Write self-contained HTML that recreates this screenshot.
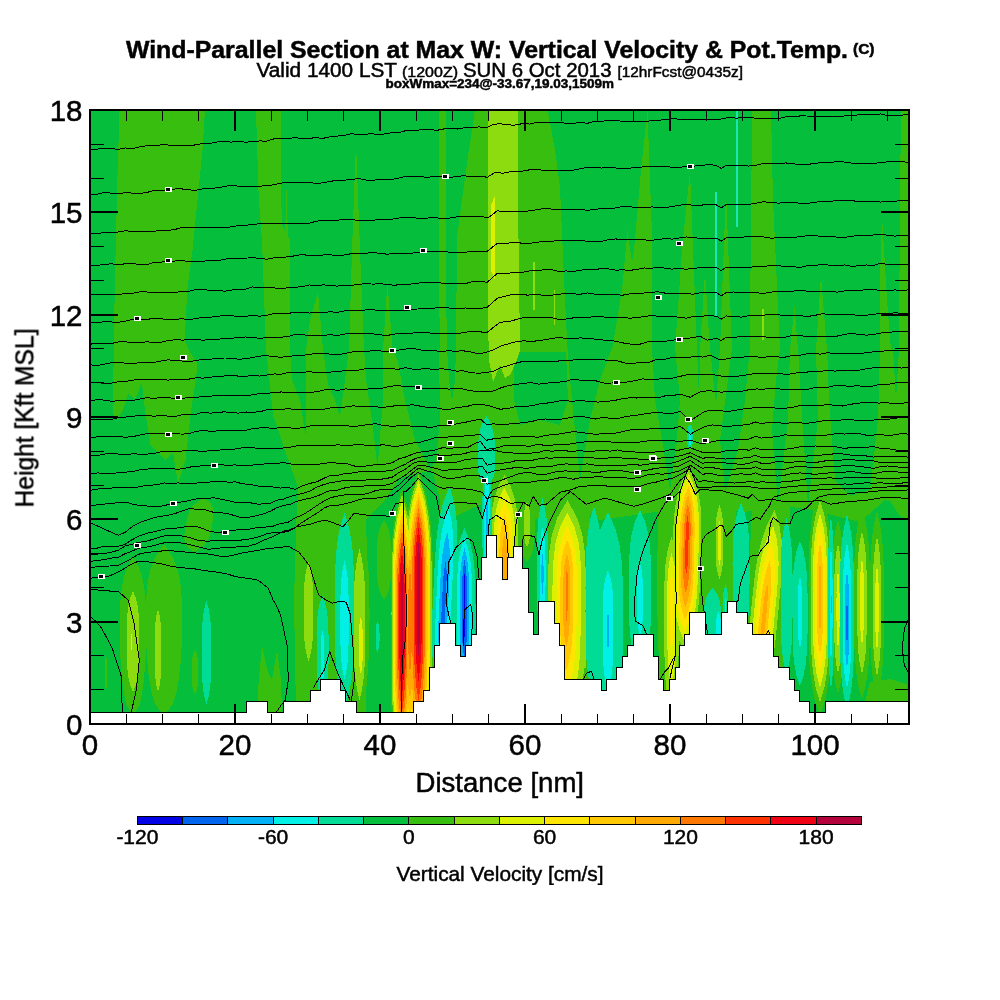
<!DOCTYPE html>
<html><head><meta charset="utf-8"><title>Wind-Parallel Section</title>
<style>html,body{margin:0;padding:0;background:#fff}svg{display:block}text{font-family:"Liberation Sans",sans-serif;fill:#000;stroke:#000;stroke-width:0.5px}</style></head><body>
<svg width="1000" height="1000" viewBox="0 0 1000 1000">
<rect width="1000" height="1000" fill="#fff"/>
<defs><clipPath id="pc"><rect x="90" y="110" width="819" height="614"/></clipPath></defs>
<g clip-path="url(#pc)" shape-rendering="crispEdges">
<rect x="90" y="110" width="819" height="614" fill="#05be3c"/>
<g fill="#37be0f"><path d="M119.5,110L205,110L202.5,150L197.5,200L192.5,250L187.5,288L184.5,340L190,352L196.5,362L196.7,373L190.5,415L185.5,460L178,484L173,452L165.5,460L150.5,445L145,410L141.8,382L135.5,399L128,394L123,410L118,417.5L113,415L113.7,350L115,275L117.5,175Z"/><path d="M256,110L281,110L281.3,200L282,225L290,240L290,350L266,350L262,240L258.8,200Z"/><path d="M286.5,190L288,237L285,237Z"/><path d="M318,292L323,350L306,350L310,320Z"/><path d="M356,142L360,250L364,350L349,350L352,250Z"/><path d="M387.5,282L392.5,350L383,350Z"/><path d="M439,110L446,110L447,520L440,520Z"/><path d="M475,110L547.5,110L555,150L560,187L563.8,275L567.5,350L456,350L457,237L466,170Z"/><path d="M647.5,111L652.5,250L652,350L612,350L622,290L627.5,231L632,262L634,250L641,170Z"/><path d="M690,171L697,350L675,350L682,250Z"/><path d="M705,272L710,350L700,350Z"/><path d="M726,189L732,350L720,350Z"/><path d="M752.5,110L771,110L773,200L780,350L750,350L751,200Z"/><path d="M794.5,307L798,350L790,350Z"/><path d="M821,276L827,350L816,350Z"/><path d="M882,216L887,300L891,350L880,350L880,280Z"/><path d="M901,110L909,110L909,350L899,350L900,200Z"/><path d="M266,349L909,349L909,505L885,500L860,522L812,510L780,505L745,512L700,505L655,512L600,520L560,500L540,520L480,505L447,520L440,500L432,470L400,478L385,500L365,520L330,520L322,600L300,600L298,487L285.5,452L273,415Z"/><path d="M257,712.5L258,690L262,646L268,672L272,680L277,650L281,680L282,712.5Z"/><path d="M297,500L366,515L368,600L366,712.5L296,712.5L294,600Z"/><path d="M658,505L736,505L737,560L735,640L700,640L690,700L660,700L657,600Z"/><path d="M546,500L590,505L588,600L586,680L560,680L540,600Z"/><path d="M752,505L790,505L788,600L782,690L760,640L748,600Z"/><path d="M865,701.7L870,682L890,679L907,684L909,701.7Z"/><path d="M889,499L909,497L909,520L900,516Z"/></g>
<g fill="#05be3c"><path d="M290,348L306,348L305.5,436L300,400L292,380Z"/><path d="M323,348L349,348L345,380L340,417L335,400L328,385Z"/><path d="M364,348L383,348L383,400L377.5,467L372,420L366,380Z"/><path d="M392.5,348L439,348L440,420L436,460L430,470L415,440L405,400L397.5,360Z"/><path d="M447,348L456,348L455,380L452,402L449,380Z"/><path d="M567.5,348L612,348L600,380L590,420L580,480L574,420L570,380Z"/><path d="M514,352L566,352L568,400L560,425L540,420L520,425L514,400Z"/><path d="M652,348L675,348L680,400L676,450L670,490L662,440L655,400Z"/><path d="M697,348L700,348L699,400Z"/><path d="M710,348L720,348L716,405Z"/><path d="M732,348L750,348L745,400L738,450L725,492L720,440L726,395Z"/><path d="M780,348L790,348L788,420L778,505L772,430L776,380Z"/><path d="M798,348L816,348L818,420L808,505L803,430L800,380Z"/><path d="M827,348L880,348L878,420L870,490L850,496L835,480L829,400Z"/><path d="M893,348L899,348L896,400Z"/></g>
<g fill="#37be0f"><path d="M133,556L139,567.4L142.6,578.9L144.6,590.3L145.6,601.7L145.9,613.1L146,624.6L146,636L145.9,647.4L145.5,658.9L144.7,670.3L143.7,681.7L142.1,693.1L139.7,704.6L133,716L126.3,704.6L123.9,693.1L122.3,681.7L121.3,670.3L120.5,658.9L120.1,647.4L120,636L120,624.6L120.1,613.1L120.4,601.7L121.4,590.3L123.4,578.9L127,567.4Z"/><path d="M164,544L172.3,556.3L177.3,568.6L180.1,580.9L181.4,593.1L181.9,605.4L182,617.7L182,630L181.8,642.3L181.2,654.6L180.3,666.9L178.8,679.1L176.6,691.4L173.3,703.7L164,716L154.7,703.7L151.4,691.4L149.2,679.1L147.7,666.9L146.8,654.6L146.2,642.3L146,630L146,617.7L146.1,605.4L146.6,593.1L147.9,580.9L150.7,568.6L155.7,556.3Z"/><path d="M195,650L196.5,653.1L197.4,656.3L197.9,659.4L198.1,662.6L198.2,665.7L198.2,668.9L198.2,672L198.2,675.1L198.2,678.3L198.1,681.4L197.9,684.6L197.4,687.7L196.5,690.9L195,694L193.5,690.9L192.6,687.7L192.1,684.6L191.9,681.4L191.8,678.3L191.8,675.1L191.8,672L191.8,668.9L191.8,665.7L191.9,662.6L192.1,659.4L192.6,656.3L193.5,653.1Z"/><path d="M204,498L209.3,501.9L212.2,505.7L213.5,509.6L213.7,513.4L213.3,517.3L212.7,521.1L212,525L211.3,528.9L210.5,532.7L209.4,536.6L207.8,540.4L205,544.3L200.7,548.1L194,552L188.7,548.1L185.8,544.3L184.5,540.4L184.3,536.6L184.7,532.7L185.3,528.9L186,525L186.7,521.1L187.5,517.3L188.6,513.4L190.2,509.6L193,505.7L197.3,501.9Z"/><path d="M106,656L106.6,658.4L106.9,660.9L107.1,663.3L107.2,665.7L107.2,668.1L107.2,670.6L107.2,673L107.2,675.4L107.2,677.9L107.2,680.3L107.1,682.7L106.9,685.1L106.6,687.6L106,690L105.4,687.6L105.1,685.1L104.9,682.7L104.8,680.3L104.8,677.9L104.8,675.4L104.8,673L104.8,670.6L104.8,668.1L104.8,665.7L104.9,663.3L105.1,660.9L105.4,658.4Z"/><path d="M309,486L314.1,501.6L317.1,517.3L318.8,532.9L319.6,548.6L319.9,564.2L320,579.9L320,595.5L319.9,611.1L319.5,626.8L318.9,642.4L318,658.1L316.7,673.7L314.7,689.4L309,705L303.3,689.4L301.3,673.7L300,658.1L299.1,642.4L298.5,626.8L298.1,611.1L298,595.5L298,579.9L298.1,564.2L298.4,548.6L299.2,532.9L300.9,517.3L303.9,501.6Z"/><path d="M359.5,530L364.1,543L366.9,556L368.4,569L369.2,582L369.4,595L369.5,608L369.5,621L369.4,634L369.1,647L368.5,660L367.7,673L366.5,686L364.7,699L359.5,712L354.3,699L352.5,686L351.3,673L350.5,660L349.9,647L349.6,634L349.5,621L349.5,608L349.6,595L349.8,582L350.6,569L352.1,556L354.9,543Z"/><path d="M384,520L387.2,525.7L389.2,531.4L390.3,537.1L390.8,542.9L391,548.6L391,554.3L391,560L391,565.7L391,571.4L390.8,577.1L390.3,582.9L389.2,588.6L387.2,594.3L384,600L380.8,594.3L378.8,588.6L377.7,582.9L377.2,577.1L377,571.4L377,565.7L377,560L377,554.3L377,548.6L377.2,542.9L377.7,537.1L378.8,531.4L380.8,525.7Z"/><path d="M418.5,470L425.8,492.5L429.9,515L432,537.5L432.8,560L433,582.5L433,605L433,627.5L433,650L432.8,672.5L432.2,695L430.9,717.5L428.6,740L424.6,762.5L418.5,785L412.4,762.5L408.4,740L406.1,717.5L404.8,695L404.2,672.5L404,650L404,627.5L404,605L404,582.5L404.2,560L405,537.5L407.1,515L411.2,492.5Z"/><path d="M402,488L407.8,509.2L411.1,530.4L412.7,551.6L413.3,572.9L413.5,594.1L413.5,615.3L413.5,636.5L413.5,657.7L413.3,678.9L412.9,700.1L411.9,721.4L410,742.6L406.9,763.8L402,785L397.1,763.8L394,742.6L392.1,721.4L391.1,700.1L390.7,678.9L390.5,657.7L390.5,636.5L390.5,615.3L390.5,594.1L390.7,572.9L391.3,551.6L392.9,530.4L396.2,509.2Z"/><path d="M410,520L414.6,537.9L417.4,555.7L418.9,573.6L419.7,591.4L419.9,609.3L420,627.1L420,645L420,662.9L419.9,680.7L419.7,698.6L418.9,716.4L417.4,734.3L414.6,752.1L410,770L405.4,752.1L402.6,734.3L401.1,716.4L400.3,698.6L400.1,680.7L400,662.9L400,645L400,627.1L400.1,609.3L400.3,591.4L401.1,573.6L402.6,555.7L405.4,537.9Z"/><path d="M504.5,464L512.1,476.6L516.8,489.1L519.5,501.7L520.8,514.3L521.3,526.9L521.5,539.4L521.5,552L521.5,564.6L521.4,577.1L521,589.7L519.9,602.3L517.3,614.9L512.5,627.4L504.5,640L496.5,627.4L491.7,614.9L489.1,602.3L488,589.7L487.6,577.1L487.5,564.6L487.5,552L487.5,539.4L487.7,526.9L488.2,514.3L489.5,501.7L492.2,489.1L496.9,476.6Z"/><path d="M527,487L530.5,492.4L532.5,497.7L533.7,503.1L534.2,508.4L534.5,513.8L534.5,519.1L534.5,524.5L534.5,529.9L534.5,535.2L534.2,540.6L533.7,545.9L532.5,551.3L530.5,556.6L527,562L523.5,556.6L521.5,551.3L520.3,545.9L519.8,540.6L519.5,535.2L519.5,529.9L519.5,524.5L519.5,519.1L519.5,513.8L519.8,508.4L520.3,503.1L521.5,497.7L523.5,492.4Z"/><path d="M567.5,488L579.7,507.4L586.4,526.9L589.5,546.3L590.6,565.7L590.8,585.1L590.6,604.6L590.5,624L590.3,643.4L589.7,662.9L588.6,682.3L586.3,701.7L582.2,721.1L575.6,740.6L565.5,760L555.7,740.6L549.4,721.1L545.6,701.7L543.6,682.3L542.7,662.9L542.4,643.4L542.5,624L542.6,604.6L542.8,585.1L543.2,565.7L544.6,546.3L548,526.9L555,507.4Z"/><path d="M689,462L696.3,476.1L700.6,490.3L702.7,504.4L703.5,518.6L703.6,532.7L703.4,546.9L703,561L702.6,575.1L702.2,589.3L701.3,603.4L699.8,617.6L696.9,631.7L691.9,645.9L684,660L676.8,645.9L672.6,631.7L670.4,617.6L669.5,603.4L669.4,589.3L669.7,575.1L670,561L670.4,546.9L670.8,532.7L671.6,518.6L673.1,504.4L676,490.3L681,476.1Z"/><path d="M671.5,522L677,537.9L680,553.9L681.4,569.8L681.9,585.7L682,601.6L682,617.6L682,633.5L681.9,649.4L681.8,665.4L681.3,681.3L680.3,697.2L678.6,713.1L675.8,729.1L671.5,745L667.2,729.1L664.4,713.1L662.7,697.2L661.7,681.3L661.2,665.4L661.1,649.4L661,633.5L661,617.6L661,601.6L661.1,585.7L661.6,569.8L663,553.9L666,537.9Z"/><path d="M719.5,492L722.5,499L724.3,506L725.3,513L725.8,520L726,527L726,534L726,541L726,548L726,555L725.8,562L725.3,569L724.3,576L722.5,583L719.5,590L716.5,583L714.7,576L713.7,569L713.2,562L713,555L713,548L713,541L713,534L713,527L713.2,520L713.7,513L714.7,506L716.5,499Z"/><path d="M776,496L782.1,512.7L785.2,529.4L786.2,546.1L785.8,562.9L784.7,579.6L783.1,596.3L781.5,613L779.9,629.7L778.1,646.4L776,663.1L773.2,679.9L769,696.6L762.6,713.3L753,730L746.7,713.3L743.6,696.6L742.6,679.9L743.1,663.1L744.3,646.4L745.9,629.7L747.5,613L749.2,596.3L750.9,579.6L753.1,562.9L756,546.1L760.3,529.4L766.6,512.7Z"/><path d="M820,488L825.3,504.3L828.5,520.6L830.3,536.9L831.1,553.1L831.4,569.4L831.5,585.7L831.5,602L831.5,618.3L831.4,634.6L831.1,650.9L830.3,667.1L828.5,683.4L825.3,699.7L820,716L814.7,699.7L811.5,683.4L809.7,667.1L808.9,650.9L808.6,634.6L808.5,618.3L808.5,602L808.5,585.7L808.6,569.4L808.9,553.1L809.7,536.9L811.5,520.6L814.7,504.3Z"/><path d="M838,520L841,532.4L842.8,544.9L843.8,557.3L844.3,569.7L844.5,582.1L844.5,594.6L844.5,607L844.5,619.4L844.5,631.9L844.3,644.3L843.8,656.7L842.8,669.1L841,681.6L838,694L835,681.6L833.2,669.1L832.2,656.7L831.7,644.3L831.5,631.9L831.5,619.4L831.5,607L831.5,594.6L831.5,582.1L831.7,569.7L832.2,557.3L833.2,544.9L835,532.4Z"/><path d="M862,508L865.7,521.6L867.9,535.3L869.1,548.9L869.7,562.6L869.9,576.2L870,589.9L870,603.5L870,617.1L869.9,630.8L869.7,644.4L869.1,658.1L867.9,671.7L865.7,685.4L862,699L858.3,685.4L856.1,671.7L854.9,658.1L854.3,644.4L854.1,630.8L854,617.1L854,603.5L854,589.9L854.1,576.2L854.3,562.6L854.9,548.9L856.1,535.3L858.3,521.6Z"/><path d="M877,511L880.1,524.4L882,537.9L883.1,551.3L883.6,564.7L883.8,578.1L883.8,591.6L883.8,605L883.8,618.4L883.8,631.9L883.6,645.3L883.1,658.7L882,672.1L880.1,685.6L877,699L873.9,685.6L872,672.1L870.9,658.7L870.4,645.3L870.2,631.9L870.2,618.4L870.2,605L870.2,591.6L870.2,578.1L870.4,564.7L870.9,551.3L872,537.9L873.9,524.4Z"/><path d="M585,600L587.3,605.7L588.7,611.4L589.5,617.1L589.8,622.9L590,628.6L590,634.3L590,640L590,645.7L590,651.4L589.8,657.1L589.5,662.9L588.7,668.6L587.3,674.3L585,680L582.7,674.3L581.3,668.6L580.5,662.9L580.2,657.1L580,651.4L580,645.7L580,640L580,634.3L580,628.6L580.2,622.9L580.5,617.1L581.3,611.4L582.7,605.7Z"/></g>
<g fill="#8cdc0f"><path d="M487.5,110L517.5,110L518,200L520,350L517,360L510,375L505,378L500,365L493,382L489,360L487.5,300Z"/><path d="M533,262L534.8,262L534.8,310L533,310Z"/><path d="M553.5,290L555,290L555,325L553.5,325Z"/><path d="M762.3,309L764,309L764,340L762.3,340Z"/><path d="M133,591L135.9,598.2L137.6,605.4L138.5,612.6L139,619.9L139.2,627.1L139.2,634.3L139.2,641.5L139.2,648.7L139.2,655.9L139,663.1L138.5,670.4L137.6,677.6L135.9,684.8L133,692L130.1,684.8L128.4,677.6L127.5,670.4L127,663.1L126.8,655.9L126.8,648.7L126.8,641.5L126.8,634.3L126.8,627.1L127,619.9L127.5,612.6L128.4,605.4L130.1,598.2Z"/><path d="M158,609L159.5,614.9L160.4,620.9L160.9,626.8L161.1,632.7L161.2,638.6L161.2,644.6L161.2,650.5L161.2,656.4L161.2,662.4L161.1,668.3L160.9,674.2L160.4,680.1L159.5,686.1L158,692L156.5,686.1L155.6,680.1L155.1,674.2L154.9,668.3L154.8,662.4L154.8,656.4L154.8,650.5L154.8,644.6L154.8,638.6L154.9,632.7L155.1,626.8L155.6,620.9L156.5,614.9Z"/><path d="M308.5,562L310.6,569.1L311.9,576.1L312.6,583.2L312.9,590.3L313.1,597.4L313.1,604.4L313.1,611.5L313.1,618.6L313.1,625.6L312.9,632.7L312.6,639.8L311.9,646.9L310.6,653.9L308.5,661L306.4,653.9L305.1,646.9L304.4,639.8L304.1,632.7L303.9,625.6L303.9,618.6L303.9,611.5L303.9,604.4L303.9,597.4L304.1,590.3L304.4,583.2L305.1,576.1L306.4,569.1Z"/><path d="M359.5,549L362.1,559.8L363.6,570.6L364.5,581.4L364.9,592.1L365.1,602.9L365.1,613.7L365.1,624.5L365.1,635.3L365.1,646.1L364.9,656.9L364.5,667.6L363.6,678.4L362.1,689.2L359.5,700L356.9,689.2L355.4,678.4L354.5,667.6L354.1,656.9L353.9,646.1L353.9,635.3L353.9,624.5L353.9,613.7L353.9,602.9L354.1,592.1L354.5,581.4L355.4,570.6L356.9,559.8Z"/><path d="M418.5,475.2L425.1,496.7L428.9,518.1L430.7,539.6L431.5,561.1L431.7,582.5L431.7,604L431.7,625.4L431.7,646.9L431.5,668.4L431,689.8L429.8,711.3L427.7,732.7L424.1,754.2L418.5,775.6L412.9,754.2L409.3,732.7L407.2,711.3L406,689.8L405.5,668.4L405.3,646.9L405.3,625.4L405.3,604L405.3,582.5L405.5,561.1L406.3,539.6L408.1,518.1L411.9,496.7Z"/><path d="M402,493.7L407.3,514L410.2,534.2L411.7,554.4L412.3,574.7L412.4,594.9L412.5,615.1L412.5,635.4L412.4,655.6L412.3,675.8L411.9,696.1L411,716.3L409.3,736.5L406.4,756.8L402,777L397.6,756.8L394.7,736.5L393,716.3L392.1,696.1L391.7,675.8L391.6,655.6L391.5,635.4L391.5,615.1L391.6,594.9L391.7,574.7L392.3,554.4L393.8,534.2L396.7,514Z"/><path d="M410,525.7L414,542.4L416.4,559L417.8,575.7L418.4,592.3L418.6,609L418.7,625.7L418.7,642.3L418.7,659L418.6,675.6L418.4,692.3L417.8,709L416.4,725.6L414,742.3L410,758.9L406,742.3L403.6,725.6L402.2,709L401.6,692.3L401.4,675.6L401.3,659L401.3,642.3L401.3,625.7L401.4,609L401.6,592.3L402.2,575.7L403.6,559L406,542.4Z"/><path d="M504.5,475.3L510.7,486.5L514.6,497.8L516.8,509.1L517.9,520.3L518.3,531.6L518.4,542.8L518.4,554.1L518.4,565.3L518.3,576.6L518,587.9L517.1,599.1L515,610.4L511.1,621.6L504.5,632.9L497.9,621.6L494,610.4L491.9,599.1L491,587.9L490.7,576.6L490.6,565.3L490.6,554.1L490.6,542.8L490.7,531.6L491.1,520.3L492.2,509.1L494.4,497.8L498.3,486.5Z"/><path d="M527,501.7L528.4,504.9L529.3,508.2L529.7,511.4L529.9,514.7L530,518L530,521.2L530,524.5L530,527.8L530,531L529.9,534.3L529.7,537.6L529.3,540.8L528.4,544.1L527,547.3L525.6,544.1L524.7,540.8L524.3,537.6L524.1,534.3L524,531L524,527.8L524,524.5L524,521.2L524,518L524.1,514.7L524.3,511.4L524.7,508.2L525.6,504.9Z"/><path d="M567.4,500.3L577,517.4L582.3,534.4L584.7,551.4L585.6,568.5L585.7,585.5L585.6,602.5L585.4,619.6L585.2,636.6L584.8,653.6L583.9,670.7L582.1,687.7L578.8,704.7L573.6,721.8L565.7,738.8L557.9,721.8L553,704.7L550,687.7L548.4,670.7L547.7,653.6L547.6,636.6L547.6,619.6L547.8,602.5L547.9,585.5L548.2,568.5L549.3,551.4L552,534.4L557.5,517.4Z"/><path d="M688.9,467.6L695.1,480.7L698.7,493.8L700.6,506.9L701.2,520L701.3,533.1L701,546.2L700.7,559.3L700.4,572.4L699.9,585.5L699.2,598.6L697.8,611.7L695.3,624.8L691,637.9L684.2,651L678.1,637.9L674.5,624.8L672.6,611.7L671.9,598.6L671.8,585.5L672.1,572.4L672.4,559.3L672.7,546.2L673.1,533.1L673.8,520L675.2,506.9L677.7,493.8L682,480.7Z"/><path d="M671.5,536.5L675.3,549.5L677.4,562.4L678.3,575.4L678.7,588.4L678.7,601.3L678.7,614.3L678.7,627.3L678.7,640.2L678.6,653.2L678.2,666.2L677.6,679.1L676.4,692.1L674.4,705.1L671.5,718L668.6,705.1L666.6,692.1L665.4,679.1L664.8,666.2L664.4,653.2L664.3,640.2L664.3,627.3L664.3,614.3L664.3,601.3L664.3,588.4L664.7,575.4L665.6,562.4L667.7,549.5Z"/><path d="M719.5,505.3L721.3,510.6L722.3,515.8L722.9,521.1L723.2,526.3L723.3,531.5L723.3,536.8L723.3,542L723.3,547.2L723.3,552.5L723.2,557.7L722.9,563L722.3,568.2L721.3,573.4L719.5,578.7L717.7,573.4L716.7,568.2L716.1,563L715.8,557.7L715.7,552.5L715.7,547.2L715.7,542L715.7,536.8L715.7,531.5L715.8,526.3L716.1,521.1L716.7,515.8L717.7,510.6Z"/><path d="M774.6,510.3L779.3,525.1L781.7,539.9L782.4,554.7L781.9,569.6L780.9,584.4L779.5,599.2L778.1,614L776.6,628.8L775.1,643.7L773.3,658.5L770.9,673.3L767.3,688.1L762,702.9L754.2,717.8L749.3,702.9L746.9,688.1L746.3,673.3L746.8,658.5L747.9,643.7L749.3,628.8L750.7,614L752.2,599.2L753.8,584.4L755.6,569.6L758.1,554.7L761.7,539.9L766.9,525.1Z"/><path d="M820,500.1L824.3,514.6L826.8,529L828.3,543.4L828.9,557.9L829.2,572.3L829.2,586.8L829.2,601.2L829.2,615.6L829.2,630.1L828.9,644.5L828.3,659L826.8,673.4L824.3,687.8L820,702.3L815.7,687.8L813.2,673.4L811.7,659L811.1,644.5L810.8,630.1L810.8,615.6L810.8,601.2L810.8,586.8L810.8,572.3L811.1,557.9L811.7,543.4L813.2,529L815.7,514.6Z"/><path d="M838,543.2L839.8,552.5L840.8,561.8L841.4,571.1L841.7,580.4L841.8,589.7L841.8,599L841.8,608.3L841.8,617.6L841.8,626.9L841.7,636.2L841.4,645.5L840.8,654.8L839.8,664.1L838,673.4L836.2,664.1L835.2,654.8L834.6,645.5L834.3,636.2L834.2,626.9L834.2,617.6L834.2,608.3L834.2,599L834.2,589.7L834.3,580.4L834.6,571.1L835.2,561.8L836.2,552.5Z"/><path d="M862,531.2L864.2,541.4L865.5,551.6L866.2,561.8L866.6,572L866.7,582.2L866.7,592.4L866.7,602.6L866.7,612.8L866.7,623L866.6,633.2L866.2,643.5L865.5,653.7L864.2,663.9L862,674.1L859.8,663.9L858.5,653.7L857.8,643.5L857.4,633.2L857.3,623L857.3,612.8L857.3,602.6L857.3,592.4L857.3,582.2L857.4,572L857.8,561.8L858.5,551.6L859.8,541.4Z"/><path d="M877,535.9L878.8,546L880,556L880.6,566.1L880.9,576.1L881,586.2L881,596.2L881,606.3L881,616.3L881,626.4L880.9,636.4L880.6,646.5L880,656.5L878.8,666.6L877,676.6L875.2,666.6L874,656.5L873.4,646.5L873.1,636.4L873,626.4L873,616.3L873,606.3L873,596.2L873,586.2L873.1,576.1L873.4,566.1L874,556L875.2,546Z"/><path d="M585,608L585.6,612.6L586,617.1L586.3,621.7L586.4,626.3L586.4,630.9L586.4,635.4L586.4,640L586.4,644.6L586.4,649.1L586.4,653.7L586.3,658.3L586,662.9L585.6,667.4L585,672L584.4,667.4L584,662.9L583.7,658.3L583.6,653.7L583.6,649.1L583.6,644.6L583.6,640L583.6,635.4L583.6,630.9L583.6,626.3L583.7,621.7L584,617.1L584.4,612.6Z"/></g>
<g fill="#dcf000"><path d="M491,205L494.5,197L495,280L491.5,272Z"/><path d="M131.5,634L131.9,635.1L132.2,636.3L132.3,637.4L132.4,638.6L132.4,639.7L132.4,640.9L132.4,642L132.4,643.1L132.4,644.3L132.4,645.4L132.3,646.6L132.2,647.7L131.9,648.9L131.5,650L131.1,648.9L130.8,647.7L130.7,646.6L130.6,645.4L130.6,644.3L130.6,643.1L130.6,642L130.6,640.9L130.6,639.7L130.6,638.6L130.7,637.4L130.8,636.3L131.1,635.1Z"/><path d="M360.8,617L361.7,621.1L362.2,625.1L362.5,629.2L362.6,633.3L362.7,637.4L362.7,641.4L362.7,645.5L362.7,649.6L362.7,653.6L362.6,657.7L362.5,661.8L362.2,665.9L361.7,669.9L360.8,674L359.9,669.9L359.4,665.9L359.1,661.8L359,657.7L358.9,653.6L358.9,649.6L358.9,645.5L358.9,641.4L358.9,637.4L359,633.3L359.1,629.2L359.4,625.1L359.9,621.1Z"/><path d="M418.5,480.8L424.5,501.1L427.8,521.5L429.5,541.8L430.2,562.2L430.3,582.5L430.4,602.9L430.4,623.2L430.3,643.6L430.2,663.9L429.7,684.3L428.7,704.7L426.7,725L423.5,745.4L418.5,765.7L413.5,745.4L410.3,725L408.3,704.7L407.3,684.3L406.8,663.9L406.7,643.6L406.6,623.2L406.6,602.9L406.7,582.5L406.8,562.2L407.5,541.8L409.2,521.5L412.5,501.1Z"/><path d="M402,499.8L406.7,519L409.4,538.2L410.7,557.4L411.3,576.6L411.4,595.8L411.4,615L411.4,634.2L411.4,653.3L411.3,672.5L410.9,691.7L410.1,710.9L408.5,730.1L406,749.3L402,768.5L398,749.3L395.5,730.1L393.9,710.9L393.1,691.7L392.7,672.5L392.6,653.3L392.6,634.2L392.6,615L392.6,595.8L392.7,576.6L393.3,557.4L394.6,538.2L397.3,519Z"/><path d="M410,531.9L413.4,547.3L415.5,562.6L416.6,578L417.1,593.3L417.3,608.7L417.4,624L417.4,639.4L417.4,654.7L417.3,670.1L417.1,685.4L416.6,700.8L415.5,716.1L413.4,731.5L410,746.8L406.6,731.5L404.5,716.1L403.4,700.8L402.9,685.4L402.7,670.1L402.6,654.7L402.6,639.4L402.6,624L402.7,608.7L402.9,593.3L403.4,578L404.5,562.6L406.6,547.3Z"/><path d="M504.5,487.5L509.4,497.3L512.4,507.2L514.1,517L514.9,526.8L515.3,536.7L515.4,546.5L515.4,556.4L515.4,566.2L515.3,576L515.1,585.9L514.3,595.7L512.7,605.5L509.6,615.4L504.5,625.2L499.4,615.4L496.3,605.5L494.7,595.7L493.9,585.9L493.7,576L493.6,566.2L493.6,556.4L493.6,546.5L493.7,536.7L494.1,526.8L494.9,517L496.6,507.2L499.6,497.3Z"/><path d="M567.3,512.9L574.6,527.5L578.5,542.1L580.3,556.7L581,571.3L581,585.9L580.9,600.4L580.8,615L580.7,629.6L580.3,644.2L579.6,658.8L578.2,673.4L575.8,687.9L571.8,702.5L565.8,717.1L560,702.5L556.3,687.9L554,673.4L552.9,658.8L552.4,644.2L552.3,629.6L552.3,615L552.4,600.4L552.5,585.9L552.8,571.3L553.7,556.7L555.7,542.1L559.9,527.5Z"/><path d="M688.7,473.6L693.9,485.6L696.9,497.6L698.4,509.5L699,521.5L699,533.5L698.7,545.5L698.4,557.5L698.1,569.5L697.7,581.5L697.1,593.5L695.9,605.4L693.8,617.4L690.2,629.4L684.5,641.4L679.4,629.4L676.4,617.4L674.8,605.4L674.2,593.5L674.2,581.5L674.4,569.5L674.7,557.5L675,545.5L675.4,533.5L676,521.5L677.2,509.5L679.3,497.6L682.9,485.6Z"/><path d="M671.5,552.5L673.8,562.2L675,571.9L675.5,581.6L675.7,591.3L675.8,601L675.8,610.7L675.8,620.4L675.7,630.1L675.7,639.8L675.5,649.5L675.1,659.2L674.4,668.9L673.2,678.6L671.5,688.3L669.8,678.6L668.6,668.9L667.9,659.2L667.5,649.5L667.3,639.8L667.3,630.1L667.2,620.4L667.2,610.7L667.2,601L667.3,591.3L667.5,581.6L668,571.9L669.2,562.2Z"/><path d="M719.5,520.8L720.2,524L720.7,527.2L720.9,530.4L721,533.6L721,536.8L721.1,540L721.1,543.2L721.1,546.4L721,549.6L721,552.8L720.9,555.9L720.7,559.1L720.2,562.3L719.5,565.5L718.8,562.3L718.3,559.1L718.1,555.9L718,552.8L718,549.6L717.9,546.4L717.9,543.2L717.9,540L718,536.8L718,533.6L718.1,530.4L718.3,527.2L718.8,524Z"/><path d="M773.1,525.6L776.6,538.4L778.2,551.2L778.6,564L778.1,576.7L777.2,589.5L776,602.3L774.7,615.1L773.5,627.9L772.2,640.7L770.7,653.5L768.7,666.3L765.8,679.1L761.6,691.9L755.5,704.6L751.9,691.9L750.2,679.1L749.9,666.3L750.4,653.5L751.4,640.7L752.6,627.9L753.8,615.1L755.1,602.3L756.4,589.5L758,576.7L760,564L762.9,551.2L767.1,538.4Z"/><path d="M820,513.1L823.3,525.6L825.2,538L826.3,550.5L826.8,563L827,575.4L827.1,587.9L827.1,600.4L827.1,612.8L827,625.3L826.8,637.7L826.3,650.2L825.2,662.7L823.3,675.1L820,687.6L816.7,675.1L814.8,662.7L813.7,650.2L813.2,637.7L813,625.3L812.9,612.8L812.9,600.4L812.9,587.9L813,575.4L813.2,563L813.7,550.5L814.8,538L816.7,525.6Z"/><path d="M838,570.1L838.7,575.7L839.2,581.4L839.4,587.1L839.5,592.7L839.5,598.4L839.6,604.1L839.6,609.7L839.6,615.4L839.5,621.1L839.5,626.7L839.4,632.4L839.2,638.1L838.7,643.7L838,649.4L837.3,643.7L836.8,638.1L836.6,632.4L836.5,626.7L836.5,621.1L836.4,615.4L836.4,609.7L836.4,604.1L836.5,598.4L836.5,592.7L836.6,587.1L836.8,581.4L837.3,575.7Z"/><path d="M862,558.1L862.9,564.3L863.4,570.5L863.7,576.7L863.9,582.9L863.9,589.2L863.9,595.4L863.9,601.6L863.9,607.8L863.9,614L863.9,620.3L863.7,626.5L863.4,632.7L862.9,638.9L862,645.1L861.1,638.9L860.6,632.7L860.3,626.5L860.1,620.3L860.1,614L860.1,607.8L860.1,601.6L860.1,595.4L860.1,589.2L860.1,582.9L860.3,576.7L860.6,570.5L861.1,564.3Z"/><path d="M877,564.9L877.8,571L878.2,577.1L878.5,583.2L878.6,589.4L878.6,595.5L878.6,601.6L878.6,607.7L878.6,613.8L878.6,620L878.6,626.1L878.5,632.2L878.2,638.3L877.8,644.5L877,650.6L876.2,644.5L875.8,638.3L875.5,632.2L875.4,626.1L875.4,620L875.4,613.8L875.4,607.7L875.4,601.6L875.4,595.5L875.4,589.4L875.5,583.2L875.8,577.1L876.2,571Z"/></g>
<g fill="#ffe600"><path d="M418.5,486.8L423.8,505.9L426.8,525.1L428.3,544.2L428.8,563.4L429,582.6L429,601.7L429,620.9L429,640.1L428.8,659.2L428.4,678.4L427.5,697.6L425.8,716.7L423,735.9L418.5,755L414,735.9L411.2,716.7L409.5,697.6L408.6,678.4L408.2,659.2L408,640.1L408,620.9L408,601.7L408,582.6L408.2,563.4L408.7,544.2L410.2,525.1L413.2,505.9Z"/><path d="M402,506.4L406.2,524.5L408.6,542.5L409.7,560.6L410.2,578.7L410.3,596.7L410.3,614.8L410.3,632.9L410.3,650.9L410.2,669L409.9,687.1L409.2,705.1L407.8,723.2L405.5,741.3L402,759.3L398.5,741.3L396.2,723.2L394.8,705.1L394.1,687.1L393.8,669L393.7,650.9L393.7,632.9L393.7,614.8L393.7,596.7L393.8,578.7L394.3,560.6L395.4,542.5L397.8,524.5Z"/><path d="M410,538.9L412.8,552.8L414.5,566.7L415.4,580.6L415.8,594.4L416,608.3L416,622.2L416,636.1L416,650L416,663.9L415.8,677.7L415.4,691.6L414.5,705.5L412.8,719.4L410,733.3L407.2,719.4L405.5,705.5L404.6,691.6L404.2,677.7L404,663.9L404,650L404,636.1L404,622.2L404,608.3L404.2,594.4L404.6,580.6L405.5,566.7L407.2,552.8Z"/><path d="M504.5,501L508.1,509.3L510.3,517.5L511.5,525.8L512.1,534.1L512.4,542.3L512.4,550.6L512.4,558.9L512.4,567.1L512.4,575.4L512.2,583.6L511.7,591.9L510.5,600.2L508.2,608.4L504.5,616.7L500.8,608.4L498.5,600.2L497.3,591.9L496.8,583.6L496.6,575.4L496.6,567.1L496.6,558.9L496.6,550.6L496.6,542.3L496.9,534.1L497.5,525.8L498.7,517.5L500.9,509.3Z"/><path d="M567.2,525.9L572.3,538L575.1,550.1L576.4,562.1L576.8,574.2L576.9,586.2L576.8,598.3L576.7,610.3L576.6,622.4L576.3,634.5L575.8,646.5L574.8,658.6L573.1,670.6L570.2,682.7L566,694.7L561.9,682.7L559.3,670.6L557.7,658.6L556.9,646.5L556.5,634.5L556.5,622.4L556.5,610.3L556.6,598.3L556.7,586.2L556.9,574.2L557.5,562.1L559,550.1L561.9,538Z"/><path d="M688.5,480L692.7,490.8L695.1,501.6L696.3,512.4L696.8,523.2L696.7,534L696.5,544.8L696.2,555.6L696,566.3L695.6,577.1L695.1,587.9L694.1,598.7L692.3,609.5L689.4,620.3L684.7,631.1L680.6,620.3L678.2,609.5L677,598.7L676.6,587.9L676.6,577.1L676.8,566.3L677,555.6L677.3,544.8L677.6,534L678.2,523.2L679.1,512.4L680.9,501.6L683.8,490.8Z"/><path d="M671.5,571.1L672.4,577L672.9,582.9L673.1,588.8L673.2,594.7L673.2,600.6L673.2,606.5L673.2,612.4L673.2,618.3L673.2,624.3L673.1,630.2L673,636.1L672.7,642L672.2,647.9L671.5,653.8L670.8,647.9L670.3,642L670,636.1L669.9,630.2L669.8,624.3L669.8,618.3L669.8,612.4L669.8,606.5L669.8,600.6L669.8,594.7L669.9,588.8L670.1,582.9L670.6,577Z"/><path d="M771.5,542.3L773.8,552.8L774.8,563.4L774.9,574L774.4,584.6L773.6,595.1L772.6,605.7L771.6,616.3L770.5,626.9L769.5,637.5L768.2,648L766.7,658.6L764.5,669.2L761.4,679.8L756.9,690.4L754.5,679.8L753.5,669.2L753.4,658.6L753.9,648L754.7,637.5L755.7,626.9L756.8,616.3L757.8,605.7L758.9,595.1L760.2,584.6L761.8,574L764,563.4L767.1,552.8Z"/><path d="M820,527.3L822.3,537.6L823.7,547.9L824.5,558.2L824.8,568.5L825,578.8L825,589.1L825,599.4L825,609.7L825,620L824.8,630.4L824.5,640.7L823.7,651L822.3,661.3L820,671.6L817.7,661.3L816.3,651L815.5,640.7L815.2,630.4L815,620L815,609.7L815,599.4L815,589.1L815,578.8L815.2,568.5L815.5,558.2L816.3,547.9L817.7,537.6Z"/></g>
<g fill="#ffc800"><path d="M418.5,493.2L423.1,511.1L425.7,529L427,546.8L427.5,564.7L427.6,582.6L427.7,600.5L427.7,618.4L427.6,636.2L427.5,654.1L427.1,672L426.4,689.9L424.9,707.8L422.4,725.6L418.5,743.5L414.6,725.6L412.1,707.8L410.6,689.9L409.9,672L409.5,654.1L409.4,636.2L409.3,618.4L409.3,600.5L409.4,582.6L409.5,564.7L410,546.8L411.3,529L413.9,511.1Z"/><path d="M402,513.5L405.7,530.3L407.7,547.2L408.7,564L409.1,580.9L409.3,597.8L409.3,614.6L409.3,631.5L409.2,648.3L409.1,665.2L408.9,682L408.2,698.9L407.1,715.8L405.1,732.6L402,749.5L398.9,732.6L396.9,715.8L395.8,698.9L395.1,682L394.9,665.2L394.8,648.3L394.7,631.5L394.7,614.6L394.7,597.8L394.9,580.9L395.3,564L396.3,547.2L398.3,530.3Z"/><path d="M410,546.9L412.1,559.1L413.5,571.3L414.2,583.5L414.5,595.7L414.6,607.9L414.7,620.1L414.7,632.3L414.7,644.5L414.6,656.7L414.5,668.9L414.2,681.1L413.5,693.3L412.1,705.5L410,717.7L407.9,705.5L406.5,693.3L405.8,681.1L405.5,668.9L405.4,656.7L405.3,644.5L405.3,632.3L405.3,620.1L405.4,607.9L405.5,595.7L405.8,583.5L406.5,571.3L407.9,559.1Z"/><path d="M504.5,516.4L506.8,522.9L508.2,529.4L509,535.8L509.4,542.3L509.5,548.8L509.6,555.2L509.6,561.7L509.6,568.2L509.6,574.6L509.4,581.1L509.1,587.6L508.3,594L506.9,600.5L504.5,607L502.1,600.5L500.7,594L499.9,587.6L499.6,581.1L499.4,574.6L499.4,568.2L499.4,561.7L499.4,555.2L499.5,548.8L499.6,542.3L500,535.8L500.8,529.4L502.2,522.9Z"/><path d="M567.1,539.4L570.4,548.9L572.2,558.3L573,567.7L573.2,577.2L573.2,586.6L573.2,596L573.1,605.5L573,614.9L572.8,624.4L572.5,633.8L571.8,643.2L570.7,652.7L568.9,662.1L566.2,671.5L563.5,662.1L561.9,652.7L560.9,643.2L560.4,633.8L560.2,624.4L560.1,614.9L560.2,605.5L560.3,596L560.3,586.6L560.5,577.2L560.9,567.7L561.8,558.3L563.7,548.9Z"/><path d="M688.4,487L691.6,496.5L693.4,506L694.3,515.5L694.6,525L694.6,534.5L694.4,543.9L694.1,553.4L693.9,562.9L693.6,572.4L693.1,581.9L692.4,591.4L691,600.9L688.6,610.4L685,619.9L681.9,610.4L680,600.9L679.1,591.4L678.8,581.9L678.8,572.4L679,562.9L679.3,553.4L679.5,543.9L679.8,534.5L680.2,525L681,515.5L682.4,506L684.7,496.5Z"/><path d="M769.6,561L770.9,569.1L771.4,577.2L771.3,585.3L770.8,593.4L770.1,601.5L769.4,609.5L768.6,617.6L767.8,625.7L767,633.8L766.1,641.9L765,650L763.5,658.1L761.4,666.2L758.5,674.3L757.1,666.2L756.7,658.1L756.8,650L757.2,641.9L757.9,633.8L758.7,625.7L759.5,617.6L760.3,609.5L761.1,601.5L762,593.4L763.2,585.3L764.7,577.2L766.8,569.1Z"/><path d="M820,543.2L821.4,551.1L822.3,559L822.7,566.8L823,574.7L823.1,582.6L823.1,590.5L823.1,598.4L823.1,606.3L823.1,614.2L823,622.1L822.7,629.9L822.3,637.8L821.4,645.7L820,653.6L818.6,645.7L817.7,637.8L817.3,629.9L817,622.1L816.9,614.2L816.9,606.3L816.9,598.4L816.9,590.5L816.9,582.6L817,574.7L817.3,566.8L817.7,559L818.6,551.1Z"/></g>
<g fill="#ffaa00"><path d="M418.5,500.3L422.4,516.8L424.6,533.2L425.7,549.7L426.1,566.2L426.3,582.6L426.3,599.1L426.3,615.6L426.2,632L426.1,648.5L425.8,665L425.2,681.5L423.9,697.9L421.8,714.4L418.5,730.9L415.2,714.4L413.1,697.9L411.8,681.5L411.2,665L410.9,648.5L410.8,632L410.7,615.6L410.7,599.1L410.7,582.6L410.9,566.2L411.3,549.7L412.4,533.2L414.6,516.8Z"/><path d="M402,521.2L405.1,536.8L406.9,552.3L407.7,567.8L408.1,583.3L408.2,598.9L408.2,614.4L408.2,629.9L408.1,645.5L408.1,661L407.8,676.5L407.3,692.1L406.3,707.6L404.6,723.1L402,738.6L399.4,723.1L397.7,707.6L396.7,692.1L396.2,676.5L395.9,661L395.9,645.5L395.8,629.9L395.8,614.4L395.8,598.9L395.9,583.3L396.3,567.8L397.1,552.3L398.9,536.8Z"/><path d="M410,556.6L411.5,566.8L412.4,577L412.9,587.1L413.1,597.3L413.2,607.4L413.2,617.6L413.2,627.8L413.2,637.9L413.2,648.1L413.1,658.2L412.9,668.4L412.4,678.6L411.5,688.7L410,698.9L408.5,688.7L407.6,678.6L407.1,668.4L406.9,658.2L406.8,648.1L406.8,637.9L406.8,627.8L406.8,617.6L406.8,607.4L406.9,597.3L407.1,587.1L407.6,577L408.5,566.8Z"/><path d="M504.5,535.5L505.6,539.7L506.2,544L506.6,548.2L506.8,552.5L506.8,556.7L506.9,561L506.9,565.2L506.9,569.5L506.9,573.7L506.8,578L506.6,582.2L506.3,586.5L505.6,590.7L504.5,595L503.4,590.7L502.7,586.5L502.4,582.2L502.2,578L502.1,573.7L502.1,569.5L502.1,565.2L502.1,561L502.2,556.7L502.2,552.5L502.4,548.2L502.8,544L503.4,539.7Z"/><path d="M567,553.6L568.7,560.3L569.7,567L570.1,573.7L570.2,580.3L570.2,587L570.2,593.7L570.1,600.4L570.1,607.1L570,613.7L569.8,620.4L569.4,627.1L568.8,633.8L567.8,640.4L566.3,647.1L565,640.4L564.1,633.8L563.6,627.1L563.3,620.4L563.2,613.7L563.2,607.1L563.2,600.4L563.3,593.7L563.3,587L563.4,580.3L563.6,573.7L564.2,567L565.2,560.3Z"/><path d="M688.2,494.8L690.4,502.8L691.7,510.9L692.4,518.9L692.5,526.9L692.5,535L692.3,543L692.1,551.1L691.9,559.1L691.6,567.2L691.3,575.2L690.7,583.3L689.7,591.3L688,599.4L685.3,607.4L683.1,599.4L681.8,591.3L681.2,583.3L681,575.2L681,567.2L681.2,559.1L681.4,551.1L681.6,543L681.8,535L682.2,526.9L682.8,518.9L683.8,510.9L685.5,502.8Z"/><path d="M767.4,583.4L767.8,588.5L767.9,593.6L767.7,598.8L767.3,603.9L766.9,609L766.4,614.1L765.9,619.2L765.4,624.4L764.8,629.5L764.3,634.6L763.7,639.7L762.8,644.9L761.8,650L760.4,655.1L759.9,650L759.9,644.9L760.1,639.7L760.5,634.6L760.9,629.5L761.4,624.4L761.9,619.2L762.4,614.1L762.9,609L763.5,603.9L764.1,598.8L765,593.6L766,588.5Z"/><path d="M820,562.2L820.6,567.2L821,572.2L821.2,577.2L821.3,582.2L821.3,587.2L821.3,592.2L821.3,597.1L821.3,602.1L821.3,607.1L821.3,612.1L821.2,617.1L821,622.1L820.6,627.1L820,632.1L819.4,627.1L819,622.1L818.8,617.1L818.7,612.1L818.7,607.1L818.7,602.1L818.7,597.1L818.7,592.2L818.7,587.2L818.7,582.2L818.8,577.2L819,572.2L819.4,567.2Z"/></g>
<g fill="#ff7800"><path d="M418.5,508.2L421.7,523.1L423.5,538L424.4,552.9L424.8,567.8L424.8,582.7L424.9,597.6L424.9,612.5L424.8,627.4L424.8,642.3L424.5,657.2L424,672.1L422.9,687L421.2,701.8L418.5,716.7L415.8,701.8L414.1,687L413,672.1L412.5,657.2L412.2,642.3L412.2,627.4L412.1,612.5L412.1,597.6L412.2,582.7L412.2,567.8L412.6,552.9L413.5,538L415.3,523.1Z"/><path d="M402,529.9L404.5,543.9L406,558L406.7,572L407,586.1L407,600.1L407,614.2L407,628.2L407,642.3L407,656.3L406.8,670.4L406.3,684.4L405.5,698.5L404.1,712.5L402,726.5L399.9,712.5L398.5,698.5L397.7,684.4L397.2,670.4L397,656.3L397,642.3L397,628.2L397,614.2L397,600.1L397,586.1L397.3,572L398,558L399.5,543.9Z"/><path d="M410,569.6L410.8,577L411.3,584.5L411.6,591.9L411.7,599.3L411.7,606.8L411.7,614.2L411.7,621.7L411.7,629.1L411.7,636.5L411.7,644L411.6,651.4L411.3,658.9L410.8,666.3L410,673.7L409.2,666.3L408.7,658.9L408.4,651.4L408.3,644L408.3,636.5L408.3,629.1L408.3,621.7L408.3,614.2L408.3,606.8L408.3,599.3L408.4,591.9L408.7,584.5L409.2,577Z"/><path d="M566.9,569L567.5,572.7L567.8,576.4L567.9,580.1L568,583.8L567.9,587.5L567.9,591.2L567.9,594.9L567.9,598.6L567.8,602.2L567.7,605.9L567.6,609.6L567.4,613.3L567,617L566.5,620.7L566.1,617L565.8,613.3L565.6,609.6L565.5,605.9L565.5,602.2L565.5,598.6L565.5,594.9L565.6,591.2L565.6,587.5L565.6,583.8L565.7,580.1L565.9,576.4L566.3,572.7Z"/><path d="M687.9,503.8L689.3,510.1L690.1,516.5L690.5,522.9L690.5,529.2L690.5,535.6L690.3,542L690.2,548.4L690,554.7L689.8,561.1L689.6,567.5L689.2,573.9L688.5,580.2L687.4,586.6L685.7,593L684.3,586.6L683.6,580.2L683.2,573.9L683.1,567.5L683.2,561.1L683.3,554.7L683.5,548.4L683.6,542L683.8,535.6L684.1,529.2L684.5,522.9L685.1,516.5L686.2,510.1Z"/></g>
<g fill="#ff3200"><path d="M418.5,517.3L421,530.4L422.4,543.4L423.1,556.5L423.3,569.6L423.4,582.7L423.4,595.8L423.4,608.9L423.4,622L423.3,635.1L423.1,648.2L422.7,661.2L421.9,674.3L420.6,687.4L418.5,700.5L416.4,687.4L415.1,674.3L414.3,661.2L413.9,648.2L413.7,635.1L413.6,622L413.6,608.9L413.6,595.8L413.6,582.7L413.7,569.6L413.9,556.5L414.6,543.4L416,530.4Z"/><path d="M402,539.9L404,552.2L405.1,564.5L405.6,576.9L405.8,589.2L405.9,601.6L405.9,613.9L405.9,626.3L405.9,638.6L405.8,650.9L405.7,663.3L405.3,675.6L404.7,688L403.6,700.3L402,712.6L400.4,700.3L399.3,688L398.7,675.6L398.3,663.3L398.2,650.9L398.1,638.6L398.1,626.3L398.1,613.9L398.1,601.6L398.2,589.2L398.4,576.9L398.9,564.5L400,552.2Z"/><path d="M687.7,515L688.3,519.3L688.6,523.6L688.7,527.8L688.7,532.1L688.6,536.4L688.5,540.7L688.4,545L688.3,549.2L688.2,553.5L688,557.8L687.8,562.1L687.5,566.3L686.9,570.6L686.1,574.9L685.6,570.6L685.3,566.3L685.1,562.1L685.1,557.8L685.2,553.5L685.3,549.2L685.4,545L685.5,540.7L685.6,536.4L685.8,532.1L686,527.8L686.3,523.6L686.9,519.3Z"/></g>
<g fill="#f00014"><path d="M418.5,528.2L420.2,539.1L421.2,550L421.7,560.9L421.9,571.9L421.9,582.8L421.9,593.7L421.9,604.6L421.9,615.5L421.9,626.4L421.7,637.3L421.4,648.2L420.9,659.1L419.9,670L418.5,680.9L417.1,670L416.1,659.1L415.6,648.2L415.3,637.3L415.1,626.4L415.1,615.5L415.1,604.6L415.1,593.7L415.1,582.8L415.1,571.9L415.3,560.9L415.8,550L416.8,539.1Z"/><path d="M402,551.9L403.4,562.2L404.1,572.5L404.5,582.7L404.7,593L404.7,603.3L404.7,613.6L404.7,623.9L404.7,634.2L404.7,644.4L404.6,654.7L404.3,665L403.9,675.3L403.1,685.6L402,695.9L400.9,685.6L400.1,675.3L399.7,665L399.4,654.7L399.3,644.4L399.3,634.2L399.3,623.9L399.3,613.6L399.3,603.3L399.3,593L399.5,582.7L399.9,572.5L400.6,562.2Z"/></g>
<g fill="#b4003c"><path d="M418.5,542.9L419.4,550.9L419.9,558.9L420.2,566.9L420.3,574.8L420.3,582.8L420.3,590.8L420.3,598.8L420.3,606.8L420.3,614.8L420.2,622.7L420.1,630.7L419.8,638.7L419.3,646.7L418.5,654.7L417.7,646.7L417.2,638.7L416.9,630.7L416.8,622.7L416.7,614.8L416.7,606.8L416.7,598.8L416.7,590.8L416.7,582.8L416.7,574.8L416.8,566.9L417.1,558.9L417.6,550.9Z"/><path d="M402,568L402.7,575.5L403.1,583.1L403.3,590.6L403.4,598.1L403.4,605.6L403.4,613.2L403.4,620.7L403.4,628.2L403.4,635.7L403.4,643.3L403.2,650.8L403,658.3L402.6,665.9L402,673.4L401.4,665.9L401,658.3L400.8,650.8L400.6,643.3L400.6,635.7L400.6,628.2L400.6,620.7L400.6,613.2L400.6,605.6L400.6,598.1L400.7,590.6L400.9,583.1L401.3,575.5Z"/></g>
<g fill="#00dc96"><path d="M206.5,601L208.6,608.4L209.9,615.7L210.6,623.1L210.9,630.4L211.1,637.8L211.1,645.1L211.1,652.5L211.1,659.9L211.1,667.2L210.9,674.6L210.6,681.9L209.9,689.3L208.6,696.6L206.5,704L204.4,696.6L203.1,689.3L202.4,681.9L202.1,674.6L201.9,667.2L201.9,659.9L201.9,652.5L201.9,645.1L201.9,637.8L202.1,630.4L202.4,623.1L203.1,615.7L204.4,608.4Z"/><path d="M464.5,528L469.6,540.6L472.6,553.3L474.3,565.9L475.1,578.6L475.4,591.2L475.5,603.9L475.5,616.5L475.5,629.1L475.4,641.8L475.1,654.4L474.3,667.1L472.6,679.7L469.6,692.4L464.5,705L459.4,692.4L456.4,679.7L454.7,667.1L453.9,654.4L453.6,641.8L453.5,629.1L453.5,616.5L453.5,603.9L453.6,591.2L453.9,578.6L454.7,565.9L456.4,553.3L459.4,540.6Z"/><path d="M449.5,486L453.8,500.6L456.2,515.1L457.2,529.7L457.3,544.3L456.9,558.9L456.2,573.4L455.5,588L454.8,602.6L454,617.1L453,631.7L451.5,646.3L449.1,660.9L445.3,675.4L439.5,690L435.2,675.4L432.8,660.9L431.8,646.3L431.7,631.7L432.1,617.1L432.8,602.6L433.5,588L434.2,573.4L435,558.9L436,544.3L437.5,529.7L439.9,515.1L443.7,500.6Z"/><path d="M486.5,416L489.6,421L491.8,426L493.2,431L494.1,436L494.6,441L494.9,446L495,451L495,456L495,461L495,466L494.8,471L494,476L491.7,481L486.5,486L481.3,481L479,476L478.2,471L478,466L478,461L478,456L478,451L478.1,446L478.4,441L478.9,436L479.8,431L481.2,426L483.4,421Z"/><path d="M487,455L489.3,465.4L490.6,475.7L491.3,486.1L491.5,496.4L491.6,506.8L491.6,517.1L491.6,527.5L491.6,537.9L491.5,548.2L491.4,558.6L491,568.9L490.2,579.3L489,589.6L487,600L485,589.6L483.8,579.3L483,568.9L482.6,558.6L482.5,548.2L482.4,537.9L482.4,527.5L482.4,517.1L482.4,506.8L482.5,496.4L482.7,486.1L483.4,475.7L484.7,465.4Z"/><path d="M344.5,513L348.9,526.9L351.5,540.9L353,554.8L353.7,568.7L353.9,582.6L354,596.6L354,610.5L354,624.4L353.9,638.4L353.7,652.3L353,666.2L351.5,680.1L348.9,694.1L344.5,708L340.1,694.1L337.5,680.1L336,666.2L335.3,652.3L335.1,638.4L335,624.4L335,610.5L335,596.6L335.1,582.6L335.3,568.7L336,554.8L337.5,540.9L340.1,526.9Z"/><path d="M322.5,596L325.3,603.6L326.9,611.1L327.9,618.7L328.3,626.3L328.5,633.9L328.5,641.4L328.5,649L328.5,656.6L328.5,664.1L328.3,671.7L327.9,679.3L326.9,686.9L325.3,694.4L322.5,702L319.7,694.4L318.1,686.9L317.1,679.3L316.7,671.7L316.5,664.1L316.5,656.6L316.5,649L316.5,641.4L316.5,633.9L316.7,626.3L317.1,618.7L318.1,611.1L319.7,603.6Z"/><path d="M377.5,622L378.4,624.1L379,626.3L379.3,628.4L379.4,630.6L379.5,632.7L379.5,634.9L379.5,637L379.5,639.1L379.5,641.3L379.4,643.4L379.3,645.6L379,647.7L378.4,649.9L377.5,652L376.6,649.9L376,647.7L375.7,645.6L375.6,643.4L375.5,641.3L375.5,639.1L375.5,637L375.5,634.9L375.5,632.7L375.6,630.6L375.7,628.4L376,626.3L376.6,624.1Z"/><path d="M594,506L597.9,519.9L600.3,533.7L601.6,547.6L602.2,561.4L602.4,575.3L602.5,589.1L602.5,603L602.5,616.9L602.4,630.7L602.2,644.6L601.6,658.4L600.3,672.3L597.9,686.1L594,700L590.1,686.1L587.7,672.3L586.4,658.4L585.8,644.6L585.6,630.7L585.5,616.9L585.5,603L585.5,589.1L585.6,575.3L585.8,561.4L586.4,547.6L587.7,533.7L590.1,519.9Z"/><path d="M608,512L615.3,528.6L619.6,545.3L621.7,561.9L622.7,578.6L623,595.2L623,611.9L623,628.5L623,645.1L622.8,661.8L622.3,678.4L621,695.1L618.7,711.7L614.5,728.4L608,745L601.5,728.4L597.3,711.7L595,695.1L593.7,678.4L593.2,661.8L593,645.1L593,628.5L593,611.9L593,595.2L593.3,578.6L594.3,561.9L596.4,545.3L600.7,528.6Z"/><path d="M640,510L645.1,521.4L648.1,532.9L649.8,544.3L650.6,555.7L650.9,567.1L651,578.6L651,590L651,601.4L650.9,612.9L650.6,624.3L649.8,635.7L648.1,647.1L645.1,658.6L640,670L634.9,658.6L631.9,647.1L630.2,635.7L629.4,624.3L629.1,612.9L629,601.4L629,590L629,578.6L629.1,567.1L629.4,555.7L630.2,544.3L631.9,532.9L634.9,521.4Z"/><path d="M542.5,498L545,508.5L546.6,519L547.4,529.5L547.8,540L548,550.5L548,561L548,571.5L548,582L548,592.5L547.8,603L547.4,613.5L546.6,624L545,634.5L542.5,645L540,634.5L538.4,624L537.6,613.5L537.2,603L537,592.5L537,582L537,571.5L537,561L537,550.5L537.2,540L537.6,529.5L538.4,519L540,508.5Z"/><path d="M741,503L744.9,513.1L747.3,523.3L748.6,533.4L749.2,543.6L749.4,553.7L749.5,563.9L749.5,574L749.5,584.1L749.4,594.3L749.2,604.4L748.6,614.6L747.3,624.7L744.9,634.9L741,645L737.1,634.9L734.7,624.7L733.4,614.6L732.8,604.4L732.6,594.3L732.5,584.1L732.5,574L732.5,563.9L732.6,553.7L732.8,543.6L733.4,533.4L734.7,523.3L737.1,513.1Z"/><path d="M725.5,585L726.9,588.9L727.7,592.9L728.2,596.8L728.4,600.7L728.5,604.6L728.5,608.6L728.5,612.5L728.5,616.4L728.5,620.4L728.4,624.3L728.2,628.2L727.7,632.1L726.9,636.1L725.5,640L724.1,636.1L723.3,632.1L722.8,628.2L722.6,624.3L722.5,620.4L722.5,616.4L722.5,612.5L722.5,608.6L722.5,604.6L722.6,600.7L722.8,596.8L723.3,592.9L724.1,588.9Z"/><path d="M712.5,588L716.4,592.8L718.8,597.6L720.1,602.4L720.7,607.1L720.9,611.9L721,616.7L721,621.5L721,626.3L720.9,631.1L720.7,635.9L720.1,640.6L718.8,645.4L716.4,650.2L712.5,655L708.6,650.2L706.2,645.4L704.9,640.6L704.3,635.9L704.1,631.1L704,626.3L704,621.5L704,616.7L704.1,611.9L704.3,607.1L704.9,602.4L706.2,597.6L708.6,592.8Z"/><path d="M786.5,518L789.3,529.1L790.9,540.3L791.9,551.4L792.3,562.6L792.5,573.7L792.5,584.9L792.5,596L792.5,607.1L792.5,618.3L792.3,629.4L791.9,640.6L790.9,651.7L789.3,662.9L786.5,674L783.7,662.9L782.1,651.7L781.1,640.6L780.7,629.4L780.5,618.3L780.5,607.1L780.5,596L780.5,584.9L780.5,573.7L780.7,562.6L781.1,551.4L782.1,540.3L783.7,529.1Z"/><path d="M800,541L803.5,551.4L805.5,561.7L806.7,572.1L807.2,582.4L807.5,592.8L807.5,603.1L807.5,613.5L807.5,623.9L807.5,634.2L807.2,644.6L806.7,654.9L805.5,665.3L803.5,675.6L800,686L796.5,675.6L794.5,665.3L793.3,654.9L792.8,644.6L792.5,634.2L792.5,623.9L792.5,613.5L792.5,603.1L792.5,592.8L792.8,582.4L793.3,572.1L794.5,561.7L796.5,551.4Z"/><path d="M831,516L832.4,528.4L833.2,540.9L833.7,553.3L833.9,565.7L834,578.1L834,590.6L834,603L834,615.4L834,627.9L833.9,640.3L833.7,652.7L833.2,665.1L832.4,677.6L831,690L829.6,677.6L828.8,665.1L828.3,652.7L828.1,640.3L828,627.9L828,615.4L828,603L828,590.6L828,578.1L828.1,565.7L828.3,553.3L828.8,540.9L829.6,528.4Z"/><path d="M847,514L850.2,528L852.2,542L853.3,556L853.8,570L854,584L854,598L854,612L854,626L854,640L853.8,654L853.3,668L852.2,682L850.2,696L847,710L843.8,696L841.8,682L840.7,668L840.2,654L840,640L840,626L840,612L840,598L840,584L840.2,570L840.7,556L841.8,542L843.8,528Z"/><path d="M690,424L691.4,425.8L692.2,427.6L692.7,429.4L692.9,431.1L693,432.9L693,434.7L693,436.5L693,438.3L693,440.1L692.9,441.9L692.7,443.6L692.2,445.4L691.4,447.2L690,449L688.6,447.2L687.8,445.4L687.3,443.6L687.1,441.9L687,440.1L687,438.3L687,436.5L687,434.7L687,432.9L687.1,431.1L687.3,429.4L687.8,427.6L688.6,425.8Z"/></g>
<g fill="#19e6b4"><path d="M715.3,192L716.8,192L716.8,316L715.3,316Z"/><path d="M736.3,111L737.8,111L737.8,227L736.3,227Z"/></g>
<g fill="#00f0e6"><path d="M464.5,537.6L468,548.5L470.2,559.5L471.4,570.5L471.9,581.4L472.1,592.4L472.2,603.3L472.2,614.3L472.2,625.3L472.1,636.2L471.9,647.2L471.4,658.1L470.2,669.1L468,680.1L464.5,691L461,680.1L458.8,669.1L457.6,658.1L457.1,647.2L456.9,636.2L456.8,625.3L456.8,614.3L456.8,603.3L456.9,592.4L457.1,581.4L457.6,570.5L458.8,559.5L461,548.5Z"/><path d="M448.4,507.5L451.3,519.6L452.9,531.7L453.4,543.7L453.4,555.8L453,567.9L452.5,580L451.9,592.1L451.3,604.2L450.6,616.3L449.8,628.4L448.7,640.4L446.9,652.5L444.2,664.6L440.2,676.7L437.3,664.6L435.7,652.5L435.2,640.4L435.2,628.4L435.6,616.3L436.1,604.2L436.7,592.1L437.3,580L438,567.9L438.8,555.8L439.9,543.7L441.7,531.7L444.4,519.6Z"/><path d="M487,473.8L488.5,481.7L489.3,489.6L489.7,497.6L489.9,505.5L489.9,513.4L489.9,521.3L489.9,529.3L489.9,537.2L489.9,545.1L489.8,553L489.5,561L489.1,568.9L488.3,576.8L487,584.7L485.7,576.8L484.9,568.9L484.5,561L484.2,553L484.1,545.1L484.1,537.2L484.1,529.3L484.1,521.3L484.1,513.4L484.1,505.5L484.3,497.6L484.7,489.6L485.5,481.7Z"/><path d="M344.5,560.9L346.4,569.4L347.6,577.8L348.2,586.3L348.5,594.8L348.6,603.2L348.6,611.7L348.6,620.1L348.6,628.6L348.6,637L348.5,645.5L348.2,654L347.6,662.4L346.4,670.9L344.5,679.3L342.6,670.9L341.4,662.4L340.8,654L340.5,645.5L340.4,637L340.4,628.6L340.4,620.1L340.4,611.7L340.4,603.2L340.5,594.8L340.8,586.3L341.4,577.8L342.6,569.4Z"/><path d="M322.5,630.5L323.3,634.2L323.9,637.9L324.1,641.7L324.3,645.4L324.3,649.1L324.3,652.9L324.3,656.6L324.3,660.3L324.3,664.1L324.3,667.8L324.1,671.5L323.9,675.3L323.3,679L322.5,682.7L321.7,679L321.1,675.3L320.9,671.5L320.7,667.8L320.7,664.1L320.7,660.3L320.7,656.6L320.7,652.9L320.7,649.1L320.7,645.4L320.9,641.7L321.1,637.9L321.7,634.2Z"/><path d="M608,569.9L610.7,578.5L612.2,587.1L613,595.7L613.3,604.4L613.4,613L613.4,621.6L613.4,630.2L613.4,638.8L613.4,647.4L613.2,656L612.7,664.6L611.9,673.2L610.4,681.9L608,690.5L605.6,681.9L604.1,673.2L603.3,664.6L602.8,656L602.6,647.4L602.6,638.8L602.6,630.2L602.6,621.6L602.6,613L602.7,604.4L603,595.7L603.8,587.1L605.3,578.5Z"/><path d="M640,563.5L641.4,568.7L642.2,573.9L642.6,579.1L642.8,584.3L642.9,589.5L642.9,594.6L642.9,599.8L642.9,605L642.9,610.2L642.8,615.4L642.6,620.6L642.2,625.8L641.4,630.9L640,636.1L638.6,630.9L637.8,625.8L637.4,620.6L637.2,615.4L637.1,610.2L637.1,605L637.1,599.8L637.1,594.6L637.1,589.5L637.2,584.3L637.4,579.1L637.8,573.9L638.6,568.7Z"/><path d="M542.5,527.7L543.9,534.1L544.7,540.6L545.2,547L545.4,553.5L545.5,559.9L545.5,566.4L545.5,572.8L545.5,579.3L545.5,585.8L545.4,592.2L545.2,598.7L544.7,605.1L543.9,611.6L542.5,618L541.1,611.6L540.3,605.1L539.8,598.7L539.6,592.2L539.5,585.8L539.5,579.3L539.5,572.8L539.5,566.4L539.5,559.9L539.6,553.5L539.8,547L540.3,540.6L541.1,534.1Z"/><path d="M725.5,598.9L725.9,600.9L726.2,602.8L726.3,604.8L726.4,606.7L726.4,608.6L726.4,610.6L726.4,612.5L726.4,614.4L726.4,616.4L726.4,618.3L726.3,620.2L726.2,622.2L725.9,624.1L725.5,626.1L725.1,624.1L724.8,622.2L724.7,620.2L724.6,618.3L724.6,616.4L724.6,614.4L724.6,612.5L724.6,610.6L724.6,608.6L724.6,606.7L724.7,604.8L724.8,602.8L725.1,600.9Z"/><path d="M718.5,612L719.7,614.6L720.4,617.1L720.8,619.7L721,622.3L721.1,624.9L721.1,627.4L721.1,630L721.1,632.6L721.1,635.1L721,637.7L720.8,640.3L720.4,642.9L719.7,645.4L718.5,648L717.3,645.4L716.6,642.9L716.2,640.3L716,637.7L715.9,635.1L715.9,632.6L715.9,630L715.9,627.4L715.9,624.9L716,622.3L716.2,619.7L716.6,617.1L717.3,614.6Z"/><path d="M800,577L801.1,582.1L801.7,587.2L802.1,592.3L802.2,597.4L802.3,602.5L802.3,607.6L802.3,612.7L802.3,617.8L802.3,623L802.2,628.1L802.1,633.2L801.7,638.3L801.1,643.4L800,648.5L798.9,643.4L798.3,638.3L797.9,633.2L797.8,628.1L797.7,623L797.7,617.8L797.7,612.7L797.7,607.6L797.7,602.5L797.8,597.4L797.9,592.3L798.3,587.2L798.9,582.1Z"/><path d="M831,546.1L831.7,554.4L832.1,562.6L832.3,570.8L832.5,579L832.5,587.2L832.5,595.5L832.5,603.7L832.5,611.9L832.5,620.1L832.5,628.3L832.3,636.6L832.1,644.8L831.7,653L831,661.2L830.3,653L829.9,644.8L829.7,636.6L829.5,628.3L829.5,620.1L829.5,611.9L829.5,603.7L829.5,595.5L829.5,587.2L829.5,579L829.7,570.8L829.9,562.6L830.3,554.4Z"/><path d="M847,542.7L849,553.2L850.2,563.6L850.8,574.1L851.1,584.5L851.3,594.9L851.3,605.4L851.3,615.8L851.3,626.3L851.3,636.7L851.1,647.1L850.8,657.6L850.2,668L849,678.5L847,688.9L845,678.5L843.8,668L843.2,657.6L842.9,647.1L842.7,636.7L842.7,626.3L842.7,615.8L842.7,605.4L842.7,594.9L842.9,584.5L843.2,574.1L843.8,563.6L845,553.2Z"/><path d="M690,432L690.6,433L690.9,434L691.1,435L691.2,436L691.2,437L691.2,438L691.2,439L691.2,440L691.2,441L691.2,442L691.1,443L690.9,444L690.6,445L690,446L689.4,445L689.1,444L688.9,443L688.8,442L688.8,441L688.8,440L688.8,439L688.8,438L688.8,437L688.8,436L688.9,435L689.1,434L689.4,433Z"/></g>
<g fill="#00b0f5"><path d="M464.5,548.1L466.7,557.2L468.1,566.3L468.8,575.4L469.2,584.5L469.3,593.7L469.4,602.8L469.4,611.9L469.4,621L469.3,630.1L469.2,639.3L468.8,648.4L468.1,657.5L466.7,666.6L464.5,675.7L462.3,666.6L460.9,657.5L460.2,648.4L459.8,639.3L459.7,630.1L459.6,621L459.6,611.9L459.6,602.8L459.7,593.7L459.8,584.5L460.2,575.4L460.9,566.3L462.3,557.2Z"/><path d="M447.3,531.7L448.9,541L449.7,550.3L449.9,559.6L449.8,568.8L449.4,578.1L449,587.4L448.5,596.7L448.1,606L447.6,615.3L447,624.6L446.2,633.8L445.1,643.1L443.4,652.4L440.9,661.7L439.3,652.4L438.5,643.1L438.3,633.8L438.4,624.6L438.7,615.3L439.2,606L439.6,596.7L440.1,587.4L440.5,578.1L441.1,568.8L441.9,559.6L443,550.3L444.7,541Z"/><path d="M487,496.3L487.7,501.3L488.1,506.3L488.3,511.3L488.4,516.3L488.4,521.3L488.4,526.4L488.4,531.4L488.4,536.4L488.4,541.4L488.3,546.4L488.2,551.4L488,556.4L487.6,561.5L487,566.5L486.4,561.5L486,556.4L485.8,551.4L485.7,546.4L485.6,541.4L485.6,536.4L485.6,531.4L485.6,526.4L485.6,521.3L485.6,516.3L485.7,511.3L485.9,506.3L486.3,501.3Z"/><path d="M608,611.9L608.5,614.7L608.7,617.5L608.9,620.2L608.9,623L609,625.8L609,628.6L609,631.4L609,634.2L609,637L608.9,639.8L608.8,642.6L608.7,645.4L608.4,648.2L608,651L607.6,648.2L607.3,645.4L607.2,642.6L607.1,639.8L607,637L607,634.2L607,631.4L607,628.6L607,625.8L607.1,623L607.1,620.2L607.3,617.5L607.5,614.7Z"/><path d="M542.5,554.4L543,557.2L543.3,560L543.4,562.8L543.5,565.6L543.6,568.4L543.6,571.3L543.6,574.1L543.6,576.9L543.6,579.7L543.5,582.5L543.4,585.3L543.3,588.1L543,590.9L542.5,593.7L542,590.9L541.7,588.1L541.6,585.3L541.5,582.5L541.4,579.7L541.4,576.9L541.4,574.1L541.4,571.3L541.4,568.4L541.5,565.6L541.6,562.8L541.7,560L542,557.2Z"/><path d="M831,576L831.2,580L831.3,584.1L831.4,588.1L831.4,592.2L831.5,596.2L831.5,600.3L831.5,604.3L831.5,608.4L831.5,612.5L831.4,616.5L831.4,620.6L831.3,624.6L831.2,628.7L831,632.7L830.8,628.7L830.7,624.6L830.6,620.6L830.6,616.5L830.5,612.5L830.5,608.4L830.5,604.3L830.5,600.3L830.5,596.2L830.6,592.2L830.6,588.1L830.7,584.1L830.8,580Z"/><path d="M847,571.3L848,578.2L848.6,585.1L848.9,592L849.1,598.9L849.1,605.8L849.2,612.7L849.2,619.6L849.2,626.5L849.1,633.4L849.1,640.3L848.9,647.2L848.6,654.1L848,661L847,667.9L846,661L845.4,654.1L845.1,647.2L844.9,640.3L844.9,633.4L844.8,626.5L844.8,619.6L844.8,612.7L844.9,605.8L844.9,598.9L845.1,592L845.4,585.1L846,578.2Z"/></g>
<g fill="#0064f0"><path d="M464.5,559.9L465.7,567L466.4,574L466.8,581L467,588.1L467,595.1L467,602.1L467,609.2L467,616.2L467,623.2L467,630.3L466.8,637.3L466.4,644.3L465.7,651.4L464.5,658.4L463.3,651.4L462.6,644.3L462.2,637.3L462,630.3L462,623.2L462,616.2L462,609.2L462,602.1L462,595.1L462,588.1L462.2,581L462.6,574L463.3,567Z"/><path d="M445.8,560.8L446.4,566.7L446.6,572.7L446.6,578.6L446.4,584.5L446.2,590.4L445.9,596.3L445.6,602.3L445.3,608.2L445,614.1L444.7,620L444.3,625.9L443.7,631.8L442.9,637.8L441.8,643.7L441.2,637.8L441,631.8L441,625.9L441.2,620L441.4,614.1L441.7,608.2L442,602.3L442.3,596.3L442.6,590.4L442.9,584.5L443.3,578.6L443.9,572.7L444.7,566.7Z"/><path d="M847,599.5L847.3,602.9L847.5,606.3L847.6,609.7L847.6,613.1L847.7,616.5L847.7,619.9L847.7,623.4L847.7,626.8L847.7,630.2L847.6,633.6L847.6,637L847.5,640.4L847.3,643.8L847,647.2L846.7,643.8L846.5,640.4L846.4,637L846.4,633.6L846.3,630.2L846.3,626.8L846.3,623.4L846.3,619.9L846.3,616.5L846.4,613.1L846.4,609.7L846.5,606.3L846.7,602.9Z"/></g>
<g fill="#0000e6"><path d="M464.5,574.3L464.9,578.8L465.1,583.3L465.2,587.8L465.3,592.4L465.3,596.9L465.3,601.4L465.3,605.9L465.3,610.4L465.3,614.9L465.3,619.4L465.2,623.9L465.1,628.5L464.9,633L464.5,637.5L464.1,633L463.9,628.5L463.8,623.9L463.7,619.4L463.7,614.9L463.7,610.4L463.7,605.9L463.7,601.4L463.7,596.9L463.7,592.4L463.8,587.8L463.9,583.3L464.1,578.8Z"/></g>
</g>
<g clip-path="url(#pc)" fill="none" stroke="#000" stroke-width="1" stroke-linejoin="round" shape-rendering="crispEdges">
<path d="M90.27,149.77L97.33,149.11L104.39,148.12L111.45,148.74L118.51,149.27L125.56,147.98L132.62,148.53L139.68,146.82L146.74,145.69L153.80,145.92L160.86,144.86L167.92,145.00L174.98,145.48L182.03,145.06L189.09,146.02L196.15,144.70L203.21,143.47L210.27,143.27L217.33,141.92L224.39,141.43L231.45,142.14L238.51,141.18L245.56,142.19L252.62,141.59L259.68,140.91L266.74,141.19L273.80,138.90L280.86,138.74L287.92,138.59L294.98,137.50L302.03,138.71L309.09,138.19L316.15,137.81L323.21,138.30L330.27,136.77L337.33,136.14L344.39,135.34L351.45,133.73L358.51,134.54L365.56,134.14L372.62,133.77L379.68,134.83L386.74,133.38L393.80,132.55L400.86,132.03L407.92,130.07L414.98,130.44L422.03,129.72L429.09,129.06L436.15,130.49L443.21,129.04L450.27,128.27L457.47,129.01L464.67,127.61L471.87,127.49L479.07,126.91L486.27,127.77L493.27,124.27L500.52,123.81L507.77,124.98L515.02,125.06L522.27,123.65L529.52,124.02L536.77,122.26L544.02,122.16L551.27,122.73L558.52,122.14L565.77,123.35L573.02,123.53L580.27,122.27L587.33,123.33L594.39,121.39L601.45,121.14L608.51,120.77L615.56,120.27L622.62,121.44L629.68,121.76L636.74,121.49L643.80,121.95L650.86,120.63L657.92,120.33L664.98,119.65L672.03,118.53L679.09,119.15L686.15,119.16L693.21,119.09L700.27,119.27L707.49,119.82L714.71,119.28L721.94,118.97L729.16,117.42L736.38,118.17L743.60,117.16L750.83,117.50L758.05,118.81L765.27,118.35L772.49,118.86L779.71,118.40L786.94,116.62L794.16,116.92L801.38,115.68L808.60,116.14L815.83,117.05L823.05,116.09L830.27,116.27L837.45,116.79L844.63,115.91L851.82,116.01L859.00,114.50L866.18,114.56L873.36,114.60L880.54,113.95L887.72,115.59L894.91,115.25L902.09,115.12L909.27,114.27"/>
<path d="M90.27,194.77L97.33,194.15L104.39,192.42L111.45,193.18L118.51,193.34L125.56,192.87L132.62,193.04L139.68,193.40L146.74,192.46L153.80,190.63L160.86,190.48L167.92,189.91L174.98,188.96L182.03,188.94L189.09,189.97L196.15,190.11L203.21,188.78L210.27,188.27L217.33,187.84L224.39,186.46L231.45,185.39L238.51,186.16L245.56,186.41L252.62,186.32L259.68,186.04L266.74,185.93L273.80,184.73L280.86,183.06L287.92,182.79L294.98,182.80L302.03,182.61L309.09,182.68L316.15,183.23L323.21,182.88L330.27,181.27L337.60,180.39L344.94,180.15L352.27,179.16L359.60,178.76L366.94,180.22L374.27,180.05L381.60,179.08L388.94,179.43L396.27,178.81L403.60,176.93L410.94,176.29L418.27,176.68L425.60,177.11L432.94,176.94L440.27,176.27L448.10,177.86L455.94,176.47L463.77,175.78L471.60,176.46L479.44,176.13L487.27,177.27L495.27,172.27L502.35,173.25L509.44,171.86L516.52,171.63L523.60,170.96L530.69,169.58L537.77,169.48L544.85,170.60L551.94,170.88L559.02,170.22L566.10,170.23L573.19,170.14L580.27,168.77L587.33,167.16L594.39,167.71L601.45,168.02L608.51,167.48L615.56,167.91L622.62,168.94L629.68,168.27L636.74,167.11L643.80,166.97L650.86,166.61L657.92,166.09L664.98,166.16L672.03,167.41L679.09,167.36L686.15,166.38L693.21,166.11L700.27,165.77L708.27,164.53L716.27,165.40L721.27,168.49L726.27,165.17L733.70,165.12L741.13,165.31L748.56,166.08L755.98,165.26L763.41,163.43L770.84,163.38L778.27,163.81L785.70,162.93L793.13,163.69L800.56,164.98L807.98,164.44L815.41,163.15L822.84,162.79L830.27,162.77L837.45,161.30L844.63,162.06L851.82,163.17L859.00,163.61L866.18,163.21L873.36,163.14L880.54,162.85L887.72,161.75L894.91,161.23L902.09,161.86L909.27,162.27"/>
<path d="M90.27,234.07L97.33,233.19L104.39,232.81L111.45,232.82L118.51,231.91L125.56,230.83L132.62,231.26L139.68,231.85L146.74,231.53L153.80,231.17L160.86,230.73L167.92,230.47L174.98,229.39L182.03,227.60L189.09,227.69L196.15,228.01L203.21,227.22L210.27,227.27L217.33,227.38L224.39,227.80L231.45,226.77L238.51,225.67L245.56,225.10L252.62,224.81L259.68,223.42L266.74,223.12L273.80,223.38L280.86,224.01L287.92,223.58L294.98,223.30L302.03,223.26L309.09,223.17L316.15,221.33L323.21,220.15L330.27,220.77L337.41,220.16L344.56,219.24L351.70,219.63L358.84,220.54L365.98,220.66L373.13,220.20L380.27,219.28L387.41,219.48L394.56,218.83L401.70,217.40L408.84,217.13L415.98,218.06L423.13,218.18L430.27,217.93L437.41,217.95L444.56,218.76L451.70,217.75L458.84,216.39L465.98,216.33L473.13,216.19L480.27,216.27L488.27,217.77L497.27,210.77L504.82,211.66L512.36,211.14L519.91,211.15L527.45,211.06L535.00,210.08L542.54,208.74L550.09,208.93L557.63,209.57L565.18,209.09L572.72,209.28L580.27,209.27L587.33,210.35L594.39,209.45L601.45,208.53L608.51,208.60L615.56,208.00L622.62,206.44L629.68,206.56L636.74,207.73L643.80,207.93L650.86,206.99L657.92,207.06L664.98,207.62L672.03,206.60L679.09,205.20L686.15,204.57L693.21,205.17L700.27,205.27L708.27,204.33L716.27,204.78L721.27,207.82L726.27,204.47L733.70,204.97L741.13,204.09L748.56,204.41L755.98,203.32L763.41,201.75L770.84,202.39L778.27,203.16L785.70,202.47L793.13,202.76L800.56,203.17L807.98,203.25L815.41,202.19L822.84,201.16L830.27,201.27L837.45,200.52L844.63,200.01L851.82,200.56L859.00,201.75L866.18,201.97L873.36,201.59L880.54,202.03L887.72,201.90L894.91,201.32L902.09,200.10L909.27,201.27"/>
<path d="M90.27,265.77L97.33,265.38L104.39,264.27L111.45,263.85L118.51,264.62L125.56,263.76L132.62,263.71L139.68,264.41L146.74,264.50L153.80,262.65L160.86,262.03L167.92,261.95L174.98,261.03L182.03,260.68L189.09,261.40L196.15,261.39L203.21,261.20L210.27,260.27L217.33,260.89L224.39,259.23L231.45,258.03L238.51,258.29L245.56,258.14L252.62,257.64L259.68,258.44L266.74,259.21L273.80,257.86L280.86,257.48L287.92,256.81L294.98,255.80L302.03,254.43L309.09,255.61L316.15,255.53L323.21,254.96L330.27,254.77L337.41,256.00L344.54,254.90L351.68,253.62L358.82,253.66L365.95,253.19L373.09,252.46L380.22,253.48L387.36,254.20L394.50,253.52L401.63,253.66L408.77,253.83L415.91,252.42L423.04,251.67L430.18,251.88L437.32,251.98L444.45,251.44L451.59,252.54L458.72,252.98L465.86,252.10L473.00,251.36L480.13,251.80L487.27,251.27L497.27,243.27L504.82,243.21L512.36,242.83L519.91,242.93L527.45,243.93L535.00,242.52L542.54,241.45L550.09,241.20L557.63,240.84L565.18,240.29L572.72,241.01L580.27,240.77L587.33,241.15L594.39,241.12L601.45,241.42L608.51,239.73L615.56,238.94L622.62,239.40L629.68,239.59L636.74,239.08L643.80,239.84L650.86,240.45L657.92,239.55L664.98,238.63L672.03,239.09L679.09,238.00L686.15,236.95L693.21,237.62L700.27,238.27L708.27,238.60L716.27,238.02L721.27,241.15L726.27,237.87L733.70,237.37L741.13,237.03L748.56,236.98L755.98,236.27L763.41,236.86L770.84,238.23L778.27,237.65L785.70,237.26L793.13,237.37L800.56,236.75L807.98,235.54L815.41,235.90L822.84,236.16L830.27,236.27L837.45,237.14L844.63,237.39L851.82,236.31L859.00,235.31L866.18,235.67L873.36,234.92L880.54,234.31L887.72,235.23L894.91,236.14L902.09,235.41L909.27,235.27"/>
<path d="M90.27,294.77L97.33,294.48L104.39,294.10L111.45,295.00L118.51,294.61L125.56,293.28L132.62,293.39L139.68,291.77L146.74,292.00L153.80,292.72L160.86,291.98L167.92,293.04L174.98,292.59L182.03,291.11L189.09,291.28L196.15,289.56L203.21,289.62L210.27,290.27L217.33,290.10L224.39,291.27L231.45,290.04L238.51,289.43L245.56,289.05L252.62,286.93L259.68,287.71L266.74,287.62L273.80,287.78L280.86,288.87L287.92,287.70L294.98,287.20L302.03,286.69L309.09,284.92L316.15,285.55L323.21,284.89L330.27,285.27L337.41,286.16L344.54,285.16L351.68,285.41L358.82,284.32L365.95,283.54L373.09,284.14L380.22,283.65L387.36,284.56L394.50,285.31L401.63,284.24L408.77,284.30L415.91,283.36L423.04,282.61L430.18,282.98L437.32,282.36L444.45,283.76L451.59,283.60L458.72,283.41L465.86,283.44L473.00,281.60L480.13,281.49L487.27,282.27L497.27,273.27L505.52,273.77L513.77,272.29L522.02,272.51L530.27,270.77L537.41,270.48L544.56,269.79L551.70,269.78L558.84,271.33L565.98,270.93L573.13,271.47L580.27,270.27L587.33,269.37L594.39,269.71L601.45,268.51L608.51,268.94L615.56,270.15L622.62,269.85L629.68,270.27L636.74,269.61L643.80,267.96L650.86,268.24L657.92,267.29L664.98,268.19L672.03,269.08L679.09,268.60L686.15,269.23L693.21,268.29L700.27,267.77L708.27,267.20L716.27,267.46L721.27,270.57L726.27,267.27L733.70,267.26L741.13,268.01L748.56,267.61L755.98,266.16L763.41,266.58L770.84,265.27L778.27,265.85L785.70,266.25L793.13,266.74L800.56,267.45L807.98,265.54L815.41,265.45L822.84,264.29L830.27,265.27L837.45,265.67L844.63,264.91L851.82,266.34L859.00,265.73L866.18,264.95L873.36,265.36L880.54,263.44L887.72,264.42L894.91,264.85L902.09,265.01L909.27,264.77"/>
<path d="M90.27,322.27L97.33,322.47L104.39,321.82L111.45,321.97L118.51,322.30L125.56,321.04L132.62,319.54L139.68,319.66L146.74,319.27L153.80,318.59L160.86,318.55L167.92,319.89L174.98,319.42L182.03,318.71L189.09,319.63L196.15,318.57L203.21,317.16L210.27,317.27L217.33,316.38L224.39,315.34L231.45,315.54L238.51,316.86L245.56,316.23L252.62,315.65L259.68,316.14L266.74,315.34L273.80,313.57L280.86,313.25L287.92,313.55L294.98,312.11L302.03,312.43L309.09,313.03L316.15,312.85L323.21,312.43L330.27,311.77L337.41,312.35L344.54,310.91L351.68,310.86L358.82,310.86L365.95,309.83L373.09,309.62L380.22,310.93L387.36,310.96L394.50,310.27L401.63,310.95L408.77,310.27L415.91,309.14L423.04,308.53L430.18,308.76L437.32,307.70L444.45,307.32L451.59,308.31L458.72,308.89L465.86,307.94L473.00,308.74L480.13,308.45L487.27,307.27L497.27,298.27L504.94,296.25L512.60,294.42L520.27,294.27L527.77,295.16L535.27,294.36L542.77,295.21L550.27,295.40L557.77,294.26L565.27,293.67L572.77,293.83L580.27,294.27L587.33,292.86L594.39,294.10L601.45,294.75L608.51,294.15L615.56,294.68L622.62,295.17L629.68,293.87L636.74,293.03L643.80,293.05L650.86,292.25L657.92,291.81L664.98,293.10L672.03,293.39L679.09,293.07L686.15,293.69L693.21,294.20L700.27,292.77L708.27,292.44L716.27,292.59L721.27,295.73L726.27,292.47L733.70,291.93L741.13,292.73L748.56,292.36L755.98,292.77L763.41,293.34L770.84,292.20L778.27,291.13L785.70,291.50L793.13,291.15L800.56,290.07L807.98,291.44L815.41,291.95L822.84,291.73L830.27,291.27L837.45,292.18L844.63,290.82L851.82,290.32L859.00,290.50L866.18,289.51L873.36,289.51L880.54,290.57L887.72,290.77L894.91,289.91L902.09,290.69L909.27,289.77"/>
<path d="M90.27,344.07L97.33,343.71L104.39,343.79L111.45,343.46L118.51,341.92L125.56,341.74L132.62,342.81L139.68,342.43L146.74,341.89L153.80,342.26L160.86,342.19L167.92,340.58L174.98,339.80L182.03,340.05L189.09,339.88L196.15,339.58L203.21,340.19L210.27,339.27L217.33,339.50L224.39,338.06L231.45,338.41L238.51,337.45L245.56,336.99L252.62,337.49L259.68,338.30L266.74,337.71L273.80,337.06L280.86,337.29L287.92,336.48L294.98,334.59L302.03,334.51L309.09,335.67L316.15,335.59L323.21,335.23L330.27,334.77L337.41,335.44L344.54,334.09L351.68,333.17L358.82,333.79L365.95,333.61L373.09,333.87L380.22,334.89L387.36,335.44L394.50,334.04L401.63,333.28L408.77,333.30L415.91,332.84L423.04,332.15L430.18,333.04L437.32,333.70L444.45,333.47L451.59,333.45L458.72,333.44L465.86,332.16L473.00,331.23L480.13,331.94L487.27,332.27L493.77,327.06L500.27,322.27L510.27,321.33L520.27,318.27L527.77,317.33L535.27,317.71L542.77,317.38L550.27,317.38L557.77,319.17L565.27,319.13L572.77,317.96L580.27,317.77L587.33,317.34L594.39,316.65L601.45,316.35L608.51,317.94L615.56,317.85L622.62,317.45L629.68,318.13L636.74,317.69L643.80,316.60L650.86,315.63L657.92,316.17L664.98,316.42L672.03,316.36L679.09,317.38L686.15,318.12L693.21,316.49L700.27,316.27L708.27,315.75L716.27,316.09L721.27,319.23L726.27,315.97L733.70,316.66L741.13,317.10L748.56,315.74L755.98,315.71L763.41,315.19L770.84,314.09L778.27,314.67L785.70,315.86L793.13,315.74L800.56,315.85L807.98,316.41L815.41,315.24L822.84,313.63L830.27,314.77L837.45,314.70L844.63,314.31L851.82,314.41L859.00,315.94L866.18,315.34L873.36,314.07L880.54,313.90L887.72,313.69L894.91,312.76L902.09,313.29L909.27,314.07"/>
<path d="M90.27,364.77L97.33,365.55L104.39,364.19L111.45,362.81L118.51,362.62L125.56,363.17L132.62,363.16L139.68,362.92L146.74,362.53L153.80,362.51L160.86,360.98L167.92,359.89L174.98,360.37L182.03,361.03L189.09,361.53L196.15,360.53L203.21,359.19L210.27,359.27L217.33,358.33L224.39,358.00L231.45,358.08L238.51,359.23L245.56,358.72L252.62,357.47L259.68,356.05L266.74,355.78L273.80,356.67L280.86,357.25L287.92,356.42L294.98,355.74L302.03,355.61L309.09,354.36L316.15,353.37L323.21,353.57L330.27,354.07L337.77,355.02L345.27,353.36L352.77,351.81L360.27,351.79L367.77,351.08L375.27,350.79L382.77,351.07L390.27,351.46L397.77,350.13L405.27,349.07L412.54,348.16L419.82,349.76L427.09,350.97L434.36,350.95L441.63,351.14L448.91,350.93L456.18,351.12L463.45,350.85L470.72,351.91L478.00,353.66L485.27,352.77L493.27,349.79L501.27,345.91L509.27,343.60L517.27,341.27L524.27,340.90L531.27,341.27L538.27,340.83L545.27,339.71L552.27,338.32L559.27,337.54L566.27,338.35L573.27,338.92L580.27,337.77L587.77,338.61L595.27,339.11L602.77,340.01L610.27,340.25L617.77,341.66L625.27,343.42L632.77,344.28L640.27,344.07L648.27,341.69L656.27,341.60L664.27,341.37L672.27,340.29L680.27,339.07L690.27,337.97L700.27,336.27L707.27,340.27L716.27,338.19L721.27,340.46L726.27,337.22L733.70,337.11L741.13,336.84L748.56,336.76L755.98,336.39L763.41,336.62L770.84,337.68L778.27,337.87L785.70,337.06L793.13,335.34L800.56,335.69L807.98,336.50L815.41,336.95L822.84,336.54L830.27,336.27L837.45,336.02L844.63,334.41L851.82,333.37L859.00,334.45L866.18,335.17L873.36,334.46L880.54,333.00L887.72,332.43L894.91,331.79L902.09,331.05L909.27,331.27"/>
<path d="M90.27,382.77L97.33,382.50L104.39,383.39L111.45,383.09L118.51,381.81L125.56,381.42L132.62,380.17L139.68,379.17L146.74,379.61L153.80,379.06L160.86,379.34L167.92,380.14L174.98,379.01L182.03,380.00L189.09,379.10L196.15,377.72L203.21,378.13L210.27,377.27L217.38,376.12L224.49,376.00L231.60,375.33L238.71,376.15L245.83,376.19L252.94,375.53L260.05,376.05L267.16,374.97L274.27,373.96L281.38,374.14L288.49,372.53L295.60,372.20L302.71,372.29L309.83,371.69L316.94,372.96L324.05,372.50L331.16,371.98L338.27,371.27L345.71,370.77L353.16,370.50L360.60,369.83L368.05,368.04L375.49,368.71L382.94,368.32L390.38,368.51L397.83,369.36L405.27,367.77L412.54,369.06L419.82,369.04L427.09,368.72L434.36,369.45L441.63,368.74L448.91,369.45L456.18,371.13L463.45,370.80L470.72,372.76L478.00,373.14L485.27,372.77L493.27,371.26L501.27,367.45L509.27,365.30L517.27,362.77L524.27,361.12L531.27,361.80L538.27,361.34L545.27,361.41L552.27,361.69L559.27,360.93L566.27,360.71L573.27,360.03L580.27,359.07L587.77,359.18L595.27,359.06L602.77,359.66L610.27,360.93L617.77,360.94L625.27,363.07L632.77,363.20L640.27,362.77L648.27,362.60L656.27,359.56L664.27,359.45L672.27,357.56L680.27,357.77L687.77,357.50L695.27,356.35L702.77,357.09L710.27,355.27L718.27,359.07L725.56,359.09L732.84,357.53L740.13,357.23L747.41,356.80L754.70,356.54L761.98,357.70L769.27,356.52L776.56,356.85L783.84,357.35L791.13,355.86L798.41,355.63L805.70,354.01L812.98,353.56L820.27,354.07L827.69,352.63L835.10,353.75L842.52,353.90L849.94,353.46L857.35,353.85L864.77,352.92L872.19,352.01L879.60,351.76L887.02,350.42L894.44,350.91L901.85,350.03L909.27,350.67"/>
<path d="M90.27,401.27L97.33,399.44L104.39,400.19L111.45,401.30L118.51,400.76L125.56,400.22L132.62,400.58L139.68,399.05L146.74,397.59L153.80,398.40L160.86,397.43L167.92,397.53L174.98,398.68L182.03,398.62L189.09,397.30L196.15,397.28L203.21,396.60L210.27,396.27L217.38,395.03L224.49,395.74L231.60,395.07L238.71,395.47L245.83,395.74L252.94,394.69L260.05,393.55L267.16,393.30L274.27,392.47L281.38,391.95L288.49,392.86L295.60,392.72L302.71,392.29L309.83,392.44L316.94,391.65L324.05,390.03L331.16,389.63L338.27,390.27L345.71,388.90L353.16,389.65L360.60,389.90L368.05,389.01L375.49,388.24L382.94,388.01L390.38,386.14L397.83,385.76L405.27,386.27L412.54,386.22L419.82,387.74L427.09,388.98L434.36,388.67L441.63,388.03L448.91,389.09L456.18,388.65L463.45,389.01L470.72,390.96L478.00,391.11L485.27,391.27L493.27,391.01L501.27,387.65L509.27,385.38L517.27,384.27L524.27,383.19L531.27,382.74L538.27,384.13L545.27,383.64L552.27,382.09L559.27,382.16L566.27,381.19L573.27,379.17L580.27,380.27L588.27,380.90L596.27,380.94L604.27,383.13L612.27,383.00L620.27,382.77L627.77,381.94L635.27,380.60L642.77,378.87L650.27,379.50L657.77,379.20L665.27,378.16L672.77,378.02L680.27,376.27L687.77,374.65L695.27,374.50L702.77,374.17L710.27,374.07L722.27,376.27L729.27,376.54L736.27,376.28L743.27,375.60L750.27,374.27L757.27,372.99L764.27,373.83L771.27,373.58L778.27,373.19L785.27,374.44L792.27,373.85L799.27,372.36L806.27,372.20L813.27,371.11L820.27,371.27L827.69,370.53L835.10,371.10L842.52,370.34L849.94,370.80L857.35,370.46L864.77,369.04L872.19,368.01L879.60,367.85L887.02,367.09L894.44,367.27L901.85,368.11L909.27,366.87"/>
<path d="M90.27,419.07L97.33,419.07L104.39,419.56L111.45,419.32L118.51,417.69L125.56,417.01L132.62,416.46L139.68,415.04L146.74,415.40L153.80,416.22L160.86,415.43L167.92,416.10L174.98,416.55L182.03,414.67L189.09,414.44L196.15,414.15L203.21,412.08L210.27,413.27L217.38,412.37L224.49,411.87L231.60,412.60L238.71,413.12L245.83,411.98L252.94,412.30L260.05,411.67L267.16,409.72L274.27,409.97L281.38,409.61L288.49,408.56L295.60,410.01L302.71,409.89L309.83,409.11L316.94,409.60L324.05,409.26L331.16,407.81L338.27,407.77L345.71,406.93L353.16,405.83L360.60,406.79L368.05,406.46L375.49,406.76L382.94,407.56L390.38,406.24L397.83,405.68L405.27,405.27L412.67,404.82L420.07,406.11L427.47,407.50L434.87,407.59L442.27,409.07L449.87,409.48L457.47,407.13L465.07,406.90L472.67,404.90L480.27,404.07L490.27,406.09L500.27,409.27L508.77,408.26L517.27,406.27L524.27,406.47L531.27,405.83L538.27,404.16L545.27,403.27L552.27,402.44L559.27,400.89L566.27,400.79L573.27,401.30L580.27,400.27L589.27,401.63L598.27,402.08L607.27,401.27L614.57,400.50L621.87,398.69L629.17,397.84L636.47,398.01L643.77,397.48L651.07,397.47L658.37,397.70L665.67,395.66L672.97,395.51L680.27,394.07L690.27,397.27L700.27,391.77L707.33,390.76L714.39,391.16L721.45,392.24L728.51,391.28L735.56,391.20L742.62,391.12L749.68,389.52L756.74,388.97L763.80,389.15L770.86,388.30L777.92,388.76L784.98,389.70L792.03,389.01L799.09,389.19L806.15,389.57L813.21,387.98L820.27,387.77L827.69,387.32L835.10,385.59L842.52,385.82L849.94,386.25L857.35,385.82L864.77,386.29L872.19,386.23L879.60,384.46L887.02,384.60L894.44,383.09L901.85,382.29L909.27,382.97"/>
<path d="M90.27,437.77L97.33,436.80L104.39,436.42L111.45,436.31L118.51,436.51L125.56,437.26L132.62,436.65L139.68,435.09L146.74,433.71L153.80,433.98L160.86,433.80L167.92,433.45L174.98,433.41L182.03,434.17L189.09,433.46L196.15,431.52L203.21,430.33L210.27,431.27L217.38,430.93L224.49,430.25L231.60,430.86L238.71,430.88L245.83,430.19L252.94,428.47L260.05,427.92L267.16,427.93L274.27,428.18L281.38,427.79L288.49,427.74L295.60,428.43L302.71,427.70L309.83,425.99L316.94,425.06L324.05,425.18L331.16,426.00L338.27,425.27L345.71,425.65L353.16,426.38L360.60,425.78L368.05,424.42L375.49,423.76L382.94,425.46L390.38,426.16L397.83,425.96L405.27,425.27L413.60,426.47L421.94,426.08L430.27,427.77L437.41,425.98L444.56,425.77L451.70,424.93L458.84,423.34L465.98,422.12L473.13,420.63L480.27,419.07L486.27,424.27L494.02,423.89L501.77,424.63L509.52,423.97L517.27,423.27L524.27,422.51L531.27,421.67L538.27,419.62L545.27,418.97L552.27,419.60L559.27,419.50L566.27,418.42L573.27,416.98L580.27,416.27L587.77,417.53L595.27,419.07L602.35,417.45L609.44,418.16L616.52,418.71L623.60,417.13L630.69,415.87L637.77,415.03L644.85,413.87L651.94,412.86L659.02,412.45L666.10,413.35L673.19,413.22L680.27,411.27L690.27,420.77L697.77,415.79L705.27,411.27L712.46,410.09L719.64,410.45L726.83,411.67L734.02,410.58L741.21,409.37L748.39,408.11L755.58,407.92L762.77,407.58L769.96,407.47L777.14,408.18L784.33,408.23L791.52,407.62L798.71,405.88L805.89,405.31L813.08,405.03L820.27,405.27L827.69,404.69L835.10,405.29L842.52,406.01L849.94,404.43L857.35,403.23L864.77,402.60L872.19,402.94L879.60,403.02L887.02,402.89L894.44,403.31L901.85,403.42L909.27,401.97"/>
<path d="M90.27,455.77L97.33,455.70L104.39,454.02L111.45,453.39L118.51,454.05L125.56,454.70L132.62,453.73L139.68,454.20L146.74,454.12L153.80,453.53L160.86,451.91L167.92,451.49L174.98,451.41L182.03,451.00L189.09,450.71L196.15,450.80L203.21,451.80L210.27,450.27L217.38,450.15L224.49,449.77L231.60,449.53L238.71,448.37L245.83,447.28L252.94,447.82L260.05,448.56L267.16,448.66L274.27,448.01L281.38,448.20L288.49,447.49L295.60,446.10L302.71,445.18L309.83,445.34L316.94,445.32L324.05,445.05L331.16,445.39L338.27,444.77L345.98,446.00L353.70,444.91L361.41,444.78L369.13,445.45L376.84,445.16L384.56,444.84L392.27,446.27L399.41,445.99L406.56,444.34L413.70,442.83L420.84,441.98L427.98,440.02L435.13,437.70L442.27,437.77L449.87,436.74L457.47,436.85L465.07,435.84L472.67,435.46L480.27,434.07L486.27,440.27L495.77,438.34L505.27,437.77L513.60,436.40L521.94,436.14L530.27,436.27L537.41,437.31L544.56,435.76L551.70,434.64L558.84,434.04L565.98,432.79L573.13,431.60L580.27,432.27L587.77,433.45L595.27,434.27L602.35,433.80L609.44,433.61L616.52,432.92L623.60,431.39L630.69,429.89L637.77,429.49L644.85,429.40L651.94,428.73L659.02,428.12L666.10,428.33L673.19,428.39L680.27,426.27L690.27,434.27L697.77,429.94L705.27,426.27L712.60,424.97L719.94,425.83L727.27,426.35L734.60,425.82L741.94,425.14L749.27,424.36L755.27,421.90L761.27,423.84L768.64,422.05L776.02,422.41L783.39,423.24L790.77,422.91L798.14,422.79L805.52,423.26L812.89,422.67L820.27,421.27L827.69,420.23L835.10,420.43L842.52,419.88L849.94,419.44L857.35,420.53L864.77,420.89L872.19,420.19L879.60,419.43L887.02,419.25L894.44,418.56L901.85,417.10L909.27,418.27"/>
<path d="M90.27,474.07L97.51,472.89L104.74,473.69L111.98,473.60L119.21,472.56L126.45,472.03L133.68,471.31L140.92,469.49L148.15,469.01L155.39,468.94L162.62,468.64L169.86,468.23L177.09,469.35L184.33,468.49L191.56,466.74L198.80,466.18L206.03,465.30L213.27,465.27L220.41,464.69L227.56,465.39L234.70,464.85L241.84,465.54L248.98,465.90L256.13,464.24L263.27,464.07L270.77,463.66L278.27,463.04L285.77,462.87L293.27,464.52L300.77,464.11L308.27,464.33L315.77,464.42L323.27,463.60L330.77,462.29L338.27,463.27L346.77,463.60L355.27,466.27L362.67,466.55L370.07,465.44L377.47,464.34L384.87,464.15L392.27,462.77L398.77,458.83L405.27,457.11L411.77,454.50L418.27,452.27L426.27,451.35L434.27,450.35L442.27,447.77L450.60,448.25L458.94,447.50L467.27,447.77L473.77,444.16L480.27,441.27L486.27,449.27L495.77,448.20L505.27,445.27L513.60,445.45L521.94,445.77L530.27,446.27L537.41,444.48L544.56,445.23L551.70,445.14L558.84,444.56L565.98,444.73L573.13,443.44L580.27,442.27L587.49,441.70L594.71,441.32L601.94,441.06L609.16,441.71L616.38,442.78L623.60,442.26L630.83,442.37L638.05,442.22L645.27,441.27L652.27,440.06L659.27,440.89L666.27,440.41L673.27,440.94L680.27,441.27L690.27,440.27L700.27,443.27L707.27,442.93L714.27,441.28L721.27,440.13L728.27,440.58L735.27,439.87L742.27,439.58L749.27,439.07L755.27,436.36L761.27,438.04L770.27,437.27L777.77,436.41L785.27,434.82L792.77,435.69L800.27,435.97L807.77,435.32L815.27,435.82L822.77,435.85L830.27,434.27L837.45,433.76L844.63,434.03L851.82,433.18L859.00,433.43L866.18,435.16L873.36,435.03L880.54,434.50L887.72,435.62L894.91,434.73L902.09,433.48L909.27,434.27"/>
<path d="M90.27,490.27L97.77,489.06L105.27,488.08L112.77,487.99L120.27,487.93L127.77,487.14L135.27,487.74L142.77,485.97L150.27,485.27L157.27,484.61L164.27,482.99L171.27,483.40L178.27,482.95L185.27,483.40L192.27,483.44L199.27,482.79L206.27,482.92L213.27,481.27L220.67,481.42L228.07,482.12L235.47,481.95L242.87,483.91L250.27,484.27L257.77,486.04L265.27,486.96L272.77,486.96L280.27,488.06L287.77,487.52L295.27,489.27L302.77,485.67L310.27,483.27L316.94,481.82L323.60,478.49L330.27,475.27L338.02,475.27L345.77,473.19L353.52,472.94L361.27,471.40L369.02,471.66L376.77,471.52L384.52,471.25L392.27,470.27L398.77,467.18L405.27,464.26L411.77,460.32L418.27,457.27L426.27,456.47L434.27,454.71L442.27,455.27L449.44,455.31L456.60,454.24L463.77,453.91L470.94,451.58L478.10,451.07L485.27,450.27L493.27,449.97L501.27,451.89L509.27,452.81L517.27,453.27L524.27,453.09L531.27,453.13L538.27,452.39L545.27,450.41L552.27,451.23L559.27,450.52L566.27,450.92L573.27,451.44L580.27,450.27L587.77,452.02L595.27,451.01L602.77,450.58L610.27,451.10L617.77,449.84L625.27,451.86L632.77,451.89L640.27,452.27L647.87,452.89L655.47,451.92L663.07,451.55L670.67,449.59L678.27,450.27L690.27,447.77L702.27,452.27L710.10,452.43L717.94,452.99L725.77,450.71L733.60,450.76L741.44,449.36L749.27,450.20L755.27,447.73L761.27,449.67L770.27,449.27L777.77,449.58L785.27,449.21L792.77,448.22L800.27,446.80L807.77,446.94L815.27,445.96L822.77,446.59L830.27,446.27L837.45,447.08L844.63,448.51L851.82,447.24L859.00,447.56L866.18,447.18L873.36,446.72L880.54,448.31L887.72,448.51L894.91,449.86L902.09,450.80L909.27,449.77"/>
<path d="M90.27,505.77L97.27,504.85L104.27,504.06L111.27,503.25L118.27,502.77L126.27,502.18L134.27,504.76L142.27,505.58L150.27,506.27L157.27,506.67L164.27,505.65L171.27,503.60L178.27,502.32L185.27,501.50L192.27,499.65L199.27,498.49L206.27,498.65L213.27,497.77L220.77,499.09L228.27,500.68L235.77,502.40L243.27,502.10L250.77,502.88L258.27,504.27L270.27,503.27L276.94,500.20L283.60,499.02L290.27,496.54L296.94,494.66L303.60,493.26L310.27,490.79L316.94,487.11L323.60,484.60L330.27,482.77L338.02,481.42L345.77,480.25L353.52,480.73L361.27,480.59L369.02,479.61L376.77,479.58L384.52,478.80L392.27,477.27L398.77,472.63L405.27,469.18L411.77,464.19L418.27,461.27L426.27,461.97L434.27,462.85L442.27,462.77L450.27,462.60L458.27,461.88L466.27,459.35L474.27,458.73L482.27,458.27L487.27,465.27L494.77,463.28L502.27,463.21L509.77,462.30L517.27,460.27L524.27,460.89L531.27,460.55L538.27,458.88L545.27,457.92L552.27,458.14L559.27,457.33L566.27,457.20L573.27,457.85L580.27,457.27L587.77,457.81L595.27,458.06L602.77,458.50L610.27,457.85L617.77,457.13L625.27,458.61L632.77,458.19L640.27,459.27L647.87,459.64L655.47,458.99L663.07,457.55L670.67,457.60L678.27,456.27L690.27,452.77L702.27,458.27L710.10,457.36L717.94,458.36L725.77,459.06L733.60,458.17L741.44,458.14L749.27,457.58L755.27,455.29L761.27,457.40L770.27,457.27L777.77,456.83L785.27,456.27L792.77,456.83L800.27,456.90L807.77,455.98L815.27,455.30L822.77,454.98L830.27,454.27L837.45,453.42L844.63,454.20L851.82,455.30L859.00,455.19L866.18,455.96L873.36,457.03L880.54,456.84L887.72,456.61L894.91,456.70L902.09,456.38L909.27,457.27"/>
<path d="M90.27,522.77L100.27,527.27L109.27,531.39L118.27,535.27L125.27,532.27L132.77,526.15L140.27,522.27L147.41,519.91L154.56,517.34L161.70,516.21L168.84,515.14L175.98,513.22L183.13,510.59L190.27,508.27L197.94,509.73L205.60,509.85L213.27,512.27L220.27,512.76L227.27,513.35L234.27,515.55L241.27,517.72L248.27,517.27L255.60,515.86L262.94,514.14L270.27,511.27L276.94,507.62L283.60,505.59L290.27,504.20L296.94,501.28L303.60,499.51L310.27,498.17L316.94,496.04L323.60,493.26L330.27,490.27L338.02,490.08L345.77,487.60L353.52,486.57L361.27,486.40L369.02,485.38L376.77,485.03L384.52,485.51L392.27,483.27L398.77,479.19L405.27,475.24L411.77,470.00L418.27,465.27L426.27,465.99L434.27,467.97L442.27,470.27L450.27,469.88L458.27,469.85L466.27,468.28L474.27,467.84L482.27,466.27L487.27,473.27L494.77,470.82L502.27,469.66L509.77,468.43L517.27,467.27L524.27,468.16L531.27,467.94L538.27,466.62L545.27,466.30L552.27,466.19L559.27,464.52L566.27,463.85L573.27,464.50L580.27,464.27L587.77,463.92L595.27,465.26L602.77,465.80L610.27,465.21L617.77,465.22L625.27,465.27L632.77,464.17L640.27,465.27L647.87,464.11L655.47,463.19L663.07,463.29L670.67,463.41L678.27,461.27L690.27,456.27L702.27,463.27L710.10,461.97L717.94,462.93L725.77,462.96L733.60,463.61L741.44,464.61L749.27,463.27L755.27,461.07L761.27,463.27L770.27,463.27L777.77,461.26L785.27,462.11L792.77,462.15L800.27,461.21L807.77,462.17L815.27,462.60L822.77,461.23L830.27,460.27L837.45,460.74L844.63,459.68L851.82,459.59L859.00,460.53L866.18,460.78L873.36,460.94L880.54,462.65L887.72,462.91L894.91,462.20L902.09,462.22L909.27,462.27"/>
<path d="M90.27,549.07L97.27,548.06L104.27,546.17L111.27,546.15L118.27,546.27L124.94,544.47L131.60,540.04L138.27,536.27L145.77,533.58L153.27,531.87L160.77,530.15L168.27,528.27L178.27,527.96L188.27,526.27L195.77,526.13L203.27,528.76L210.77,531.77L218.27,532.27L225.77,531.67L233.27,530.32L240.77,529.46L248.27,529.27L256.27,527.78L264.27,527.16L272.27,526.46L280.27,523.55L288.27,522.27L295.27,517.72L302.27,515.07L309.27,510.84L316.27,505.97L323.27,501.52L330.27,497.77L338.02,495.92L345.77,494.76L353.52,494.78L361.27,494.90L369.02,493.01L376.77,490.18L384.52,489.63L392.27,489.27L398.77,485.05L405.27,478.98L411.77,473.78L418.27,468.27L426.27,470.74L434.27,473.04L442.27,477.27L450.27,478.68L458.27,477.51L466.27,475.84L474.27,475.51L482.27,476.27L487.27,484.27L494.77,482.47L502.27,479.80L509.77,477.07L517.27,474.27L524.27,472.71L531.27,472.83L538.27,474.47L545.27,474.59L552.27,472.66L559.27,471.08L566.27,470.98L573.27,471.40L580.27,471.27L587.77,471.84L595.27,472.23L602.77,471.92L610.27,470.20L617.77,470.14L625.27,471.37L632.77,472.65L640.27,471.27L647.87,470.12L655.47,468.28L663.07,467.74L670.67,467.26L678.27,466.27L690.27,460.27L696.27,464.76L702.27,468.27L710.10,467.22L717.94,468.63L725.77,469.88L733.60,469.34L741.44,468.21L749.27,468.96L755.27,466.85L761.27,469.14L770.27,469.27L777.77,469.93L785.27,469.11L792.77,467.08L800.27,466.41L807.77,467.09L815.27,467.83L822.77,467.08L830.27,466.27L837.45,466.29L844.63,465.74L851.82,465.90L859.00,466.17L866.18,467.40L873.36,468.33L880.54,466.68L887.72,465.97L894.91,466.44L902.09,467.75L909.27,467.27"/>
<path d="M90.27,554.77L97.27,554.11L104.27,553.49L111.27,552.14L118.27,550.27L124.94,546.09L131.60,544.35L138.27,542.27L145.77,541.52L153.27,539.15L160.77,536.72L168.27,535.27L178.27,535.21L188.27,537.27L198.27,540.42L208.27,541.27L215.77,540.02L223.27,540.21L230.77,540.43L238.27,540.27L245.41,539.70L252.56,538.38L259.70,536.50L266.84,533.78L273.98,532.52L281.13,533.00L288.27,531.27L294.27,528.26L300.27,523.67L306.27,519.80L312.27,515.99L318.27,512.46L324.27,508.03L330.27,505.27L338.02,505.24L345.77,503.75L353.52,501.51L361.27,499.11L369.02,498.34L376.77,498.13L384.52,496.78L392.27,495.27L398.77,489.98L405.27,483.56L411.77,476.85L418.27,472.27L424.27,476.44L430.27,481.64L436.27,485.74L442.27,488.27L449.27,487.81L456.27,488.16L463.27,488.85L470.27,489.27L482.27,492.27L487.27,499.27L492.27,490.27L500.60,486.59L508.94,483.83L517.27,482.27L524.27,482.30L531.27,482.01L538.27,480.85L545.27,480.79L552.27,479.28L559.27,477.84L566.27,477.77L573.27,479.27L580.27,477.77L587.77,477.99L595.27,476.74L602.77,476.99L610.27,477.47L617.77,477.05L625.27,477.90L632.77,478.29L640.27,477.27L647.87,474.71L655.47,473.92L663.07,474.08L670.67,473.13L678.27,471.27L690.27,465.27L696.27,469.23L702.27,474.27L710.10,473.34L717.94,475.34L725.77,475.97L733.60,474.64L741.44,473.73L749.27,474.96L755.27,472.85L761.27,475.14L770.27,475.27L777.77,476.06L785.27,475.06L792.77,473.35L800.27,472.92L807.77,473.85L815.27,474.16L822.77,473.66L830.27,472.77L837.45,472.54L844.63,472.20L851.82,471.43L859.00,472.76L866.18,473.72L873.36,473.76L880.54,472.26L887.72,471.30L894.91,471.58L902.09,472.67L909.27,472.27"/>
<path d="M90.27,561.27L97.27,560.63L104.27,559.45L111.27,558.16L118.27,557.27L124.94,553.80L131.60,551.39L138.27,548.27L145.77,547.24L153.27,545.83L160.77,543.44L168.27,542.27L178.27,542.54L188.27,544.27L198.27,546.91L208.27,549.27L216.27,548.49L224.27,547.54L232.27,547.44L240.27,546.51L248.27,546.27L255.60,544.04L262.94,540.47L270.27,537.67L276.87,534.43L283.47,531.28L290.07,529.65L296.67,526.67L303.82,525.47L310.97,524.14L318.12,521.68L325.27,520.07L334.12,523.08L342.97,526.67L348.47,520.37L353.97,513.47L361.03,514.20L368.09,515.32L375.15,515.39L382.21,515.19L389.27,516.77L392.52,509.95L395.77,503.57L403.27,502.27L403.27,491.27L406.27,491.27L412.27,485.53L418.27,478.27L424.27,484.27L430.27,490.30L436.27,496.27L437.60,502.61L438.94,509.50L440.27,517.27L444.27,518.27L447.27,510.45L450.27,503.27L460.27,502.27L468.27,503.16L476.27,503.27L479.27,510.49L482.27,518.27L485.27,507.65L488.27,498.27L492.27,496.27L500.27,497.27L510.27,503.27L523.27,502.27L529.27,506.27L533.27,496.27L539.27,505.27L546.27,504.27L553.27,498.29L560.27,492.27L570.27,489.88L580.27,486.27L587.77,485.96L595.27,485.92L602.77,485.71L610.27,486.30L617.77,486.71L625.27,486.37L632.77,486.78L640.27,486.27L648.27,483.54L656.27,482.06L664.27,479.86L672.27,478.27L680.77,474.26L689.27,469.27L693.77,475.17L698.27,481.27L705.60,480.80L712.94,481.95L720.27,482.27L727.41,482.35L734.56,483.03L741.70,482.49L748.84,481.59L755.98,482.14L763.13,481.91L770.27,482.27L777.77,482.40L785.27,481.40L792.77,480.99L800.27,480.00L807.77,478.58L815.27,478.84L822.77,478.40L830.27,477.77L837.45,478.56L844.63,477.83L851.82,477.46L859.00,477.56L866.18,477.19L873.36,477.70L880.54,478.43L887.72,478.11L894.91,478.46L902.09,477.80L909.27,477.77"/>
<path d="M538.97,555.27L540.62,547.17L542.27,540.27L544.94,533.36L547.60,526.95L550.27,520.27L553.60,514.20L556.94,507.27L560.27,500.27L570.27,491.27L578.27,498.03L586.27,504.27L595.27,501.11L604.27,498.27L611.77,499.88L619.27,502.23L626.77,504.43L634.27,506.27L642.94,504.10L651.60,501.26L660.27,498.27L670.27,494.27L675.27,486.95L680.27,480.27L685.27,476.27L690.27,483.27L695.27,494.27L700.27,489.27L710.27,490.11L720.27,490.27L727.27,492.38L734.27,494.03L741.27,495.96L748.27,498.27L752.27,494.27L758.27,500.27L765.27,499.99L772.27,499.27L782.27,501.27L789.77,501.58L797.27,501.41L804.77,501.41L812.27,501.27L820.27,500.27L830.27,504.27L840.27,502.74L850.27,501.27L857.67,500.96L865.07,500.58L872.47,499.26L879.87,498.03L887.27,497.77L894.60,497.52L901.94,498.11L909.27,498.97"/>
<path d="M669.97,678.27L671.74,670.16L673.50,663.06L675.27,656.27L675.37,648.74L675.47,641.67L675.57,634.75L675.67,627.78L675.77,620.65L675.87,613.66L675.97,606.67L676.07,600.27L676.01,591.73L675.95,583.77L675.89,575.72L675.83,567.69L675.77,560.27L675.64,552.12L675.52,544.77L675.39,537.36L675.27,530.27L676.27,522.07L677.27,514.36L678.27,506.67L679.27,498.77L680.27,491.27L683.27,482.14L686.27,473.27L689.27,466.27L693.27,476.27L697.27,487.27L704.94,487.41L712.60,486.94L720.27,486.27L727.41,486.09L734.56,486.43L741.70,486.69L748.84,486.70L755.98,487.89L763.13,488.33L770.27,488.27L777.77,488.48L785.27,487.16L792.77,486.41L800.27,485.84L807.77,485.11L815.27,485.24L822.77,484.79L830.27,484.27L837.45,484.93L844.63,483.98L851.82,484.19L859.00,483.41L866.18,482.86L873.36,483.14L880.54,482.87L887.72,483.35L894.91,483.80L902.09,483.02L909.27,482.77"/>
<path d="M708.27,635.27L706.27,626.27L704.94,616.99L703.60,608.44L702.27,600.27L701.77,591.59L701.27,583.37L700.77,575.44L700.27,568.27L700.77,560.44L701.27,553.56L701.77,546.54L702.27,540.27L706.27,534.27L713.27,530.20L720.27,525.27L723.27,526.27L726.27,536.27L731.27,531.23L736.27,524.27L748.27,522.27L756.27,517.27L760.27,519.27L764.77,512.26L769.27,506.27L773.27,497.27L781.77,494.77L790.27,492.27L798.27,491.98L806.27,491.74L814.27,490.26L822.27,489.52L830.27,489.27L837.45,488.35L844.63,489.02L851.82,488.55L859.00,488.61L866.18,488.57L873.36,487.82L880.54,487.37L887.72,486.95L894.91,486.13L902.09,486.30L909.27,486.27"/>
<path d="M736.77,602.27L738.27,600.27L739.27,591.69L740.27,584.27L742.77,577.03L745.27,570.19L747.77,563.34L750.27,556.27L758.27,555.27L760.27,551.27L768.27,542.27L769.27,534.01L770.27,524.27L773.27,517.27L780.27,523.27L790.27,523.27L794.27,513.27L806.27,508.27L812.27,502.02L818.27,497.27L830.27,494.27L837.45,494.14L844.63,494.21L851.82,493.48L859.00,492.51L866.18,492.11L873.36,491.63L880.54,490.71L887.72,490.27L894.91,490.69L902.09,490.45L909.27,489.77"/>
<path d="M90.27,567.77L97.27,566.58L104.27,566.36L111.27,565.89L118.27,565.27L124.94,562.05L131.60,558.49L138.27,554.27L145.77,552.69L153.27,551.63L160.77,551.09L168.27,550.27L175.77,551.19L183.27,551.86L190.77,552.52L198.27,553.27L205.77,553.56L213.27,554.85L220.77,556.33L228.27,556.27L236.27,554.46L244.27,552.52L252.27,551.37L260.27,549.98L268.27,548.27L278.27,547.78L288.27,546.27L298.87,551.97L304.37,559.01L309.87,566.27L312.10,574.13L314.32,581.23L316.54,588.55L318.77,594.97L326.27,600.27L332.27,603.27L340.27,601.27L346.27,602.27L350.27,614.27L350.87,621.06L351.47,628.22L352.07,635.29L352.67,642.62L353.27,650.27L353.52,657.38L353.77,664.95L354.02,672.48L354.27,680.27L353.27,687.03L352.27,694.01L351.27,701.27"/>
<path d="M90.27,578.27L99.27,577.03L108.27,576.27L115.77,573.35L123.27,569.08L130.77,564.49L138.27,561.27L148.27,561.91L158.27,563.27L165.77,564.89L173.27,566.71L180.77,567.60L188.27,568.27L196.27,569.09L204.27,570.62L212.27,571.40L220.27,572.67L228.27,574.27L235.77,576.74L243.27,577.84L250.77,578.72L258.27,580.27L268.27,588.27L273.27,600.27L276.77,606.39L280.27,614.27L282.02,621.62L283.77,629.86L285.52,638.05L287.27,646.27L287.52,654.68L287.77,663.20L288.02,671.89L288.27,680.27L286.77,690.24L285.27,700.27L280.77,705.56L276.27,712.27"/>
<path d="M90.27,589.27L97.27,589.87L104.27,590.77L111.27,591.08L118.27,591.27L128.27,600.27L130.27,608.00L132.27,616.06L134.27,624.27L135.27,631.33L136.27,638.46L137.27,645.68L138.27,652.77L139.27,660.27L138.52,667.55L137.77,675.05L137.02,682.48L136.27,690.27L134.60,697.43L132.94,704.77L131.27,712.27"/>
<path d="M90.27,616.27L95.27,620.95L100.27,626.27L104.27,633.22L108.27,640.74L112.27,648.27L114.52,655.22L116.77,662.18L119.02,669.24L121.27,676.27L121.47,683.58L121.67,690.74L121.87,698.00L122.07,705.03L122.27,712.27"/>
<path d="M313.27,688.27L316.94,681.70L320.60,675.73L324.27,670.27L326.97,660.74L329.67,651.27L332.54,659.23L335.40,667.13L338.27,674.27L341.27,681.04L344.27,687.38L347.27,693.86L350.27,700.27"/>
<path d="M401.27,712.27L401.41,705.02L401.56,697.47L401.70,690.10L401.84,682.59L401.98,675.12L402.13,667.92L402.27,660.27L403.77,650.57L405.27,640.27L405.67,633.01L406.07,625.66L406.47,618.15L406.87,610.27L406.50,603.19L406.14,595.93L405.77,588.67L405.40,581.22L405.04,573.98L404.67,566.27L404.44,559.12L404.20,551.81L403.97,544.55L403.74,537.08L403.50,529.76L403.27,522.27L403.27,512.55L403.27,502.27"/>
<path d="M680.27,491.27L672.77,497.75L665.27,502.77L660.27,511.48L655.27,520.27L652.12,528.43L648.97,535.72L645.82,543.28L642.67,551.77L640.87,557.81L639.07,565.11L637.27,572.77L636.52,580.26L635.77,588.24L635.02,596.09L634.27,604.27L634.77,612.51L635.27,621.27L642.67,625.27L646.87,634.77"/>
<path d="M488.27,536.27L488.77,528.27L489.27,520.27L496.27,515.27L504.27,520.27L505.77,530.27L507.27,540.27L507.77,548.77L508.27,557.27"/>
<path d="M514.27,556.27L514.52,549.27L514.77,542.27L515.02,535.27L515.27,528.27L516.77,520.27L518.27,512.27L523.27,502.27"/>
<path d="M522.27,546.27L523.27,536.27L528.27,534.97L534.77,537.07L536.87,546.17L538.97,555.27"/>
<path d="M450.67,623.27L448.57,614.04L446.47,604.27L446.82,597.51L447.17,590.36L447.52,583.41L447.87,576.50L448.22,569.42L448.57,562.27L452.27,555.18L455.97,547.57L461.72,542.31L467.47,538.17L472.77,541.27L474.87,548.88L476.97,555.97L477.67,563.96L478.37,571.61L479.07,579.07"/>
<path d="M463.27,646.27L463.47,639.07L463.67,631.87L463.87,624.67L464.07,617.47L464.27,610.27L470.67,604.27L472.77,616.87L472.22,625.57L471.67,634.27"/>
<path d="M908.27,619.27L904.27,629.27L903.27,638.77L902.27,648.27L903.27,656.77L904.27,665.27L908.27,672.27"/>
<path d="M583.27,679.77L586.27,673.27L591.27,671.27L594.27,679.77"/>
<path d="M660.27,679.27L664.27,672.27L668.27,668.27L672.27,660.27L675.27,656.27"/>
<path d="M766.27,634.77L768.27,630.27L770.27,634.77"/>
</g>
<g clip-path="url(#pc)"><path d="M90,725L90,712.2L246.4,712.2L246.4,701.2L267.6,701.2L267.6,712.2L283,712.2L283,701.2L310,701.2L310,690.1L320.4,690.1L320.4,679L340,679L340,690.1L345.6,690.1L345.6,701.2L356.4,701.2L356.4,712.2L413.7,712.2L413.7,701.2L423.5,701.2L423.5,690.1L429.4,690.1L429.4,667.9L434.7,667.9L434.7,645.8L439.5,645.8L439.5,623.7L455.7,623.7L455.7,645.8L460.5,645.8L460.5,656.9L465.5,656.9L465.5,645.8L471,645.8L471,634.7L476,634.7L476,579.4L481.5,579.4L481.5,557.2L486.6,557.2L486.6,535.1L496.6,535.1L496.6,557.2L502.5,557.2L502.5,579.4L507.6,579.4L507.6,557.2L513,557.2L513,546.2L522.3,546.2L522.3,568.3L528.6,568.3L528.6,612.6L533.4,612.6L533.4,634.7L538.7,634.7L538.7,601.5L554.8,601.5L554.8,623.7L559.7,623.7L559.7,645.8L564.5,645.8L564.5,679L601.5,679L601.5,690.1L606.7,690.1L606.7,679L616.8,679L616.8,667.9L622.5,667.9L622.5,656.9L627.7,656.9L627.7,645.8L633,645.8L633,634.7L653.4,634.7L653.4,656.9L658.6,656.9L658.6,679L663.4,679L663.4,690.1L669.7,690.1L669.7,679L675,679L675,667.9L679.8,667.9L679.8,645.8L684.9,645.8L684.9,634.7L689.7,634.7L689.7,612.6L705.5,612.6L705.5,634.7L721.8,634.7L721.8,612.6L727.2,612.6L727.2,601.5L736.5,601.5L736.5,612.6L747.4,612.6L747.4,623.7L752.6,623.7L752.6,634.7L773.6,634.7L773.6,656.9L778.4,656.9L778.4,667.9L789.3,667.9L789.3,679L794.6,679L794.6,690.1L799.8,690.1L799.8,701.2L809.7,701.2L809.7,712.2L825.7,712.2L825.7,701.2L909,701.2L909,725Z" fill="#fff" stroke="#000" stroke-width="1" shape-rendering="crispEdges"/></g>
<g shape-rendering="crispEdges">
<rect x="164.5" y="187" width="7" height="5" fill="#fff"/><rect x="166" y="188" width="4" height="3" fill="#000"/>
<rect x="164.5" y="258" width="7" height="5" fill="#fff"/><rect x="166" y="259" width="4" height="3" fill="#000"/>
<rect x="133.5" y="316" width="7" height="5" fill="#fff"/><rect x="135" y="317" width="4" height="3" fill="#000"/>
<rect x="179.5" y="355" width="7" height="5" fill="#fff"/><rect x="181" y="356" width="4" height="3" fill="#000"/>
<rect x="174.5" y="394.5" width="7" height="5" fill="#fff"/><rect x="176" y="395.5" width="4" height="3" fill="#000"/>
<rect x="164.5" y="432" width="7" height="5" fill="#fff"/><rect x="166" y="433" width="4" height="3" fill="#000"/>
<rect x="210.5" y="463" width="7" height="5" fill="#fff"/><rect x="212" y="464" width="4" height="3" fill="#000"/>
<rect x="169.5" y="501" width="7" height="5" fill="#fff"/><rect x="171" y="502" width="4" height="3" fill="#000"/>
<rect x="221.5" y="530" width="7" height="5" fill="#fff"/><rect x="223" y="531" width="4" height="3" fill="#000"/>
<rect x="133.5" y="542.5" width="7" height="5" fill="#fff"/><rect x="135" y="543.5" width="4" height="3" fill="#000"/>
<rect x="97.5" y="573.5" width="7" height="5" fill="#fff"/><rect x="99" y="574.5" width="4" height="3" fill="#000"/>
<rect x="441.5" y="173.5" width="7" height="5" fill="#fff"/><rect x="443" y="174.5" width="4" height="3" fill="#000"/>
<rect x="419.5" y="248" width="7" height="5" fill="#fff"/><rect x="421" y="249" width="4" height="3" fill="#000"/>
<rect x="403.5" y="304.5" width="7" height="5" fill="#fff"/><rect x="405" y="305.5" width="4" height="3" fill="#000"/>
<rect x="388.5" y="348" width="7" height="5" fill="#fff"/><rect x="390" y="349" width="4" height="3" fill="#000"/>
<rect x="414.5" y="384.5" width="7" height="5" fill="#fff"/><rect x="416" y="385.5" width="4" height="3" fill="#000"/>
<rect x="446.5" y="420" width="7" height="5" fill="#fff"/><rect x="448" y="421" width="4" height="3" fill="#000"/>
<rect x="446.5" y="440.5" width="7" height="5" fill="#fff"/><rect x="448" y="441.5" width="4" height="3" fill="#000"/>
<rect x="436.5" y="455.5" width="7" height="5" fill="#fff"/><rect x="438" y="456.5" width="4" height="3" fill="#000"/>
<rect x="388.5" y="510.5" width="7" height="5" fill="#fff"/><rect x="390" y="511.5" width="4" height="3" fill="#000"/>
<rect x="480.5" y="477.5" width="7" height="5" fill="#fff"/><rect x="482" y="478.5" width="4" height="3" fill="#000"/>
<rect x="514.5" y="511.5" width="7" height="5" fill="#fff"/><rect x="516" y="512.5" width="4" height="3" fill="#000"/>
<rect x="686.5" y="164" width="7" height="5" fill="#fff"/><rect x="688" y="165" width="4" height="3" fill="#000"/>
<rect x="675.5" y="241" width="7" height="5" fill="#fff"/><rect x="677" y="242" width="4" height="3" fill="#000"/>
<rect x="654.5" y="295" width="7" height="5" fill="#fff"/><rect x="656" y="296" width="4" height="3" fill="#000"/>
<rect x="675.5" y="337" width="7" height="5" fill="#fff"/><rect x="677" y="338" width="4" height="3" fill="#000"/>
<rect x="612.5" y="379.5" width="7" height="5" fill="#fff"/><rect x="614" y="380.5" width="4" height="3" fill="#000"/>
<rect x="633.5" y="469.5" width="7" height="5" fill="#fff"/><rect x="635" y="470.5" width="4" height="3" fill="#000"/>
<rect x="633.5" y="487" width="7" height="5" fill="#fff"/><rect x="635" y="488" width="4" height="3" fill="#000"/>
<rect x="648.5" y="455" width="7" height="5" fill="#fff"/><rect x="650" y="456" width="4" height="3" fill="#000"/>
<rect x="684.5" y="416.5" width="7" height="5" fill="#fff"/><rect x="686" y="417.5" width="4" height="3" fill="#000"/>
<rect x="701.5" y="438" width="7" height="5" fill="#fff"/><rect x="703" y="439" width="4" height="3" fill="#000"/>
<rect x="665.5" y="495.5" width="7" height="5" fill="#fff"/><rect x="667" y="496.5" width="4" height="3" fill="#000"/>
<rect x="696.5" y="565.5" width="7" height="5" fill="#fff"/><rect x="698" y="566.5" width="4" height="3" fill="#000"/>
<rect x="649.5" y="455.5" width="7" height="5" fill="#fff"/><rect x="651" y="456.5" width="4" height="3" fill="#000"/>
</g>
<g stroke="#000" fill="none" shape-rendering="crispEdges">
<rect x="90" y="110" width="819" height="614" stroke-width="2"/>
<path d="M126.2,110v11 M126.2,724v-10" stroke-width="1"/><path d="M162.5,110v11 M162.5,724v-10" stroke-width="1"/><path d="M198.8,110v11 M198.8,724v-10" stroke-width="1"/><path d="M235,110v21 M235,724v-20" stroke-width="2"/><path d="M271.2,110v11 M271.2,724v-10" stroke-width="1"/><path d="M307.5,110v11 M307.5,724v-10" stroke-width="1"/><path d="M343.8,110v11 M343.8,724v-10" stroke-width="1"/><path d="M380,110v21 M380,724v-20" stroke-width="2"/><path d="M416.2,110v11 M416.2,724v-10" stroke-width="1"/><path d="M452.5,110v11 M452.5,724v-10" stroke-width="1"/><path d="M488.8,110v11 M488.8,724v-10" stroke-width="1"/><path d="M525,110v21 M525,724v-20" stroke-width="2"/><path d="M561.2,110v11 M561.2,724v-10" stroke-width="1"/><path d="M597.5,110v11 M597.5,724v-10" stroke-width="1"/><path d="M633.8,110v11 M633.8,724v-10" stroke-width="1"/><path d="M670,110v21 M670,724v-20" stroke-width="2"/><path d="M706.2,110v11 M706.2,724v-10" stroke-width="1"/><path d="M742.5,110v11 M742.5,724v-10" stroke-width="1"/><path d="M778.8,110v11 M778.8,724v-10" stroke-width="1"/><path d="M815,110v21 M815,724v-20" stroke-width="2"/><path d="M851.2,110v11 M851.2,724v-10" stroke-width="1"/><path d="M887.5,110v11 M887.5,724v-10" stroke-width="1"/><path d="M90,689.9h14 M909,689.9h-14" stroke-width="1"/><path d="M90,655.8h14 M909,655.8h-14" stroke-width="1"/><path d="M90,621.7h28 M909,621.7h-28" stroke-width="2"/><path d="M90,587.6h14 M909,587.6h-14" stroke-width="1"/><path d="M90,553.4h14 M909,553.4h-14" stroke-width="1"/><path d="M90,519.3h28 M909,519.3h-28" stroke-width="2"/><path d="M90,485.2h14 M909,485.2h-14" stroke-width="1"/><path d="M90,451.1h14 M909,451.1h-14" stroke-width="1"/><path d="M90,417h28 M909,417h-28" stroke-width="2"/><path d="M90,382.9h14 M909,382.9h-14" stroke-width="1"/><path d="M90,348.8h14 M909,348.8h-14" stroke-width="1"/><path d="M90,314.7h28 M909,314.7h-28" stroke-width="2"/><path d="M90,280.6h14 M909,280.6h-14" stroke-width="1"/><path d="M90,246.4h14 M909,246.4h-14" stroke-width="1"/><path d="M90,212.3h28 M909,212.3h-28" stroke-width="2"/><path d="M90,178.2h14 M909,178.2h-14" stroke-width="1"/><path d="M90,144.1h14 M909,144.1h-14" stroke-width="1"/>
</g>
<g opacity="0.996">
<text x="126" y="57.8" font-size="24" font-weight="bold" textLength="722" lengthAdjust="spacingAndGlyphs" stroke-width="0.9">Wind-Parallel Section at Max W: Vertical Velocity &amp; Pot.Temp.</text>
<text x="853" y="54.3" font-size="14" font-weight="bold" textLength="21.5" lengthAdjust="spacingAndGlyphs">(C)</text>
<text x="256.5" y="76.8" font-size="20" textLength="140.5" lengthAdjust="spacingAndGlyphs">Valid 1400 LST</text>
<text x="402" y="76.8" font-size="15" textLength="56" lengthAdjust="spacingAndGlyphs" stroke-width="0.7">(1200Z)</text>
<text x="463" y="76.8" font-size="20" textLength="148.5" lengthAdjust="spacingAndGlyphs">SUN 6 Oct 2013</text>
<text x="617.5" y="76.8" font-size="15" textLength="125.5" lengthAdjust="spacingAndGlyphs" stroke-width="0.7">[12hrFcst@0435z]</text>
<text x="385.5" y="88.3" font-size="13" font-weight="bold" textLength="228.5" lengthAdjust="spacingAndGlyphs" stroke-width="0.15">boxWmax=234@-33.67,19.03,1509m</text>
<text x="90" y="755.1" font-size="29.5" text-anchor="middle">0</text>
<text x="235" y="755.1" font-size="29.5" text-anchor="middle">20</text>
<text x="380" y="755.1" font-size="29.5" text-anchor="middle">40</text>
<text x="525" y="755.1" font-size="29.5" text-anchor="middle">60</text>
<text x="670" y="755.1" font-size="29.5" text-anchor="middle">80</text>
<text x="815" y="755.1" font-size="29.5" text-anchor="middle">100</text>
<text x="82.5" y="735" font-size="29.5" text-anchor="end">0</text>
<text x="82.5" y="632.7" font-size="29.5" text-anchor="end">3</text>
<text x="82.5" y="530.3" font-size="29.5" text-anchor="end">6</text>
<text x="82.5" y="428" font-size="29.5" text-anchor="end">9</text>
<text x="82.5" y="325.7" font-size="29.5" text-anchor="end">12</text>
<text x="82.5" y="223.3" font-size="29.5" text-anchor="end">15</text>
<text x="82.5" y="121" font-size="29.5" text-anchor="end">18</text>
<text x="415.5" y="792" font-size="27" textLength="168.5" lengthAdjust="spacingAndGlyphs">Distance [nm]</text>
<text transform="translate(33.4,507.5) rotate(-90)" font-size="25" textLength="179" lengthAdjust="spacingAndGlyphs">Height [Kft MSL]</text>
<g shape-rendering="crispEdges">
<rect x="137.4" y="816.5" width="45.2" height="8" fill="#0000e6" stroke="#000" stroke-width="1"/>
<rect x="182.7" y="816.5" width="45.2" height="8" fill="#0064f0" stroke="#000" stroke-width="1"/>
<rect x="227.9" y="816.5" width="45.2" height="8" fill="#00b0f5" stroke="#000" stroke-width="1"/>
<rect x="273.1" y="816.5" width="45.2" height="8" fill="#00f0e6" stroke="#000" stroke-width="1"/>
<rect x="318.4" y="816.5" width="45.2" height="8" fill="#00dc96" stroke="#000" stroke-width="1"/>
<rect x="363.6" y="816.5" width="45.2" height="8" fill="#05be3c" stroke="#000" stroke-width="1"/>
<rect x="408.9" y="816.5" width="45.2" height="8" fill="#37be0f" stroke="#000" stroke-width="1"/>
<rect x="454.1" y="816.5" width="45.2" height="8" fill="#8cdc0f" stroke="#000" stroke-width="1"/>
<rect x="499.4" y="816.5" width="45.2" height="8" fill="#dcf000" stroke="#000" stroke-width="1"/>
<rect x="544.6" y="816.5" width="45.2" height="8" fill="#ffe600" stroke="#000" stroke-width="1"/>
<rect x="589.9" y="816.5" width="45.2" height="8" fill="#ffc800" stroke="#000" stroke-width="1"/>
<rect x="635.1" y="816.5" width="45.2" height="8" fill="#ffaa00" stroke="#000" stroke-width="1"/>
<rect x="680.4" y="816.5" width="45.2" height="8" fill="#ff7800" stroke="#000" stroke-width="1"/>
<rect x="725.6" y="816.5" width="45.2" height="8" fill="#ff3200" stroke="#000" stroke-width="1"/>
<rect x="770.9" y="816.5" width="45.2" height="8" fill="#f00014" stroke="#000" stroke-width="1"/>
<rect x="816.1" y="816.5" width="45.2" height="8" fill="#b4003c" stroke="#000" stroke-width="1"/>
</g>
<text x="137.4" y="844" font-size="21" text-anchor="middle">-120</text>
<text x="273.1" y="844" font-size="21" text-anchor="middle">-60</text>
<text x="408.9" y="844" font-size="21" text-anchor="middle">0</text>
<text x="544.6" y="844" font-size="21" text-anchor="middle">60</text>
<text x="680.4" y="844" font-size="21" text-anchor="middle">120</text>
<text x="816.1" y="844" font-size="21" text-anchor="middle">180</text>
<text x="396.5" y="880.5" font-size="21" textLength="207" lengthAdjust="spacingAndGlyphs">Vertical Velocity [cm/s]</text>
</g>
</svg></body></html>
